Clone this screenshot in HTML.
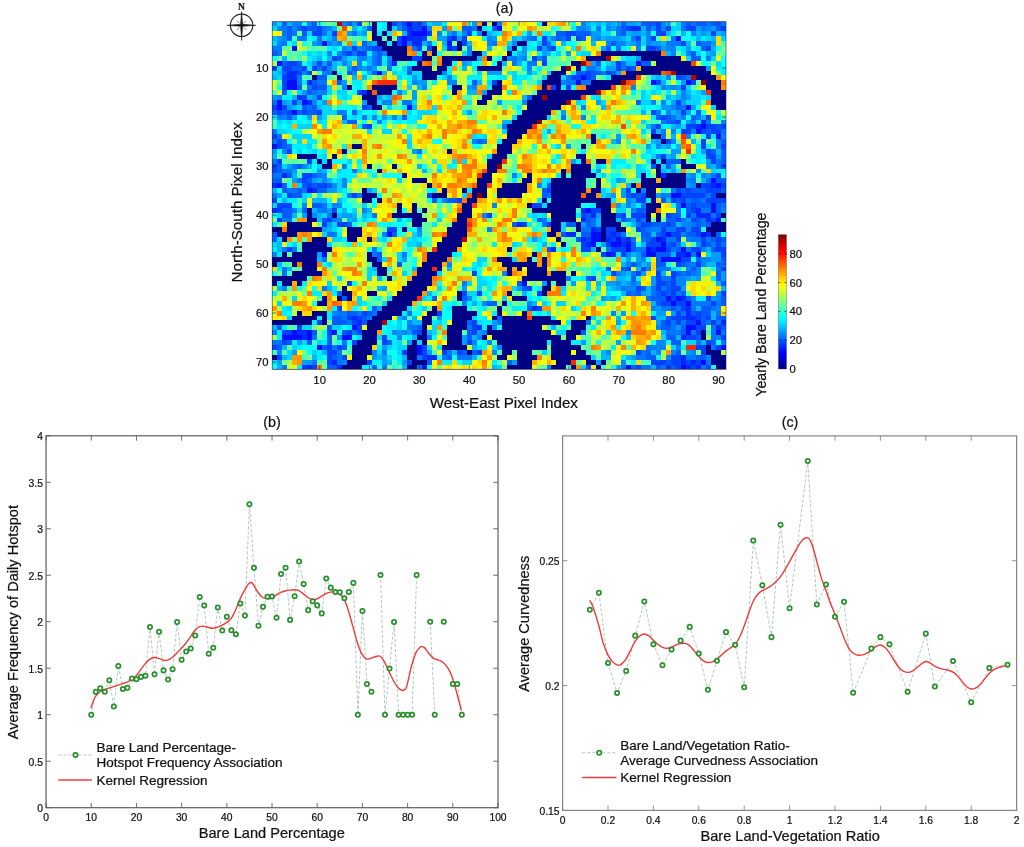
<!DOCTYPE html>
<html lang="en"><head><meta charset="utf-8"><title>Figure</title>
<style>html,body{margin:0;padding:0;background:#fff}body{width:1024px;height:847px;overflow:hidden}svg{will-change:transform}text{stroke:#111;stroke-width:.22px}</style></head>
<body>
<svg width="1024" height="847" viewBox="0 0 1024 847" style="display:block;font-family:'Liberation Sans', Arial, Helvetica, sans-serif">
<rect width="1024" height="847" fill="#fff"/>
<defs><linearGradient id="jet" x1="0" y1="1" x2="0" y2="0">
<stop offset="0" stop-color="#000080"/>
<stop offset="0.03" stop-color="#00009f"/>
<stop offset="0.06" stop-color="#0000bf"/>
<stop offset="0.09" stop-color="#0000df"/>
<stop offset="0.12" stop-color="#0000ff"/>
<stop offset="0.16" stop-color="#0020ff"/>
<stop offset="0.19" stop-color="#0040ff"/>
<stop offset="0.22" stop-color="#0060ff"/>
<stop offset="0.25" stop-color="#0080ff"/>
<stop offset="0.28" stop-color="#009fff"/>
<stop offset="0.31" stop-color="#00bfff"/>
<stop offset="0.34" stop-color="#00dfff"/>
<stop offset="0.38" stop-color="#00ffff"/>
<stop offset="0.41" stop-color="#20ffdf"/>
<stop offset="0.44" stop-color="#40ffbf"/>
<stop offset="0.47" stop-color="#60ff9f"/>
<stop offset="0.5" stop-color="#80ff80"/>
<stop offset="0.53" stop-color="#9fff60"/>
<stop offset="0.56" stop-color="#bfff40"/>
<stop offset="0.59" stop-color="#dfff20"/>
<stop offset="0.62" stop-color="#ffff00"/>
<stop offset="0.66" stop-color="#ffdf00"/>
<stop offset="0.69" stop-color="#ffbf00"/>
<stop offset="0.72" stop-color="#ff9f00"/>
<stop offset="0.75" stop-color="#ff8000"/>
<stop offset="0.78" stop-color="#ff6000"/>
<stop offset="0.81" stop-color="#ff4000"/>
<stop offset="0.84" stop-color="#ff2000"/>
<stop offset="0.88" stop-color="#ff0000"/>
<stop offset="0.91" stop-color="#df0000"/>
<stop offset="0.94" stop-color="#bf0000"/>
<stop offset="0.97" stop-color="#9f0000"/>
<stop offset="1" stop-color="#800000"/>
</linearGradient></defs>
<filter id="bl" x="-1%" y="-1%" width="102%" height="102%"><feGaussianBlur stdDeviation="0.55"/></filter>
<rect x="272.3" y="21.6" width="453.7" height="347.8" fill="#1a4ad0"/>
<g filter="url(#bl)"><g transform="translate(272.3 21.6) scale(4.98571 4.89859)" shape-rendering="crispEdges">
<rect width="91" height="71" fill="#000085"/>
<path fill="#0011ff" d="M27 0h1v1h-1zM30 1h1v1h-1zM45 1h1v1h-1zM28 2h3v1h-3zM26 3h1v1h-1zM81 3h1v1h-1zM10 4h1v1h-1zM26 4h1v1h-1zM35 4h1v1h-1zM4 5h1v1h-1zM1 8h1v1h-1zM73 8h1v1h-1zM21 10h1v1h-1zM62 11h1v1h-1zM3 12h2v1h-2zM61 12h1v1h-1zM76 12h1v1h-1zM83 12h1v1h-1zM3 13h2v1h-2zM1 16h1v1h-1zM6 16h1v1h-1zM1 17h1v1h-1zM27 17h1v1h-1zM83 17h1v1h-1zM4 18h1v1h-1zM86 21h1v1h-1zM85 22h1v1h-1zM89 23h1v1h-1zM0 25h1v1h-1zM88 32h1v1h-1zM1 33h1v1h-1zM89 33h1v1h-1zM7 34h1v1h-1zM80 35h2v1h-2zM82 37h1v1h-1zM88 37h1v1h-1zM63 38h1v1h-1zM88 38h1v1h-1zM89 40h1v1h-1zM23 43h1v1h-1zM64 43h2v1h-2zM79 43h1v1h-1zM86 43h1v1h-1zM64 44h2v1h-2zM69 44h1v1h-1zM77 44h1v1h-1zM64 45h1v1h-1zM68 45h2v1h-2zM71 45h1v1h-1zM78 45h1v1h-1zM71 46h1v1h-1zM75 46h1v1h-1zM77 46h2v1h-2zM82 46h1v1h-1zM10 47h1v1h-1zM67 47h1v1h-1zM75 47h2v1h-2zM83 47h1v1h-1zM85 47h1v1h-1zM78 48h4v1h-4zM50 53h1v1h-1zM79 56h1v1h-1zM81 56h1v1h-1zM80 57h1v1h-1zM83 57h1v1h-1zM85 61h1v1h-1zM16 62h1v1h-1zM83 62h2v1h-2zM4 63h1v1h-1zM7 63h1v1h-1zM12 63h1v1h-1zM83 63h1v1h-1zM89 63h1v1h-1zM2 64h4v1h-4zM7 64h1v1h-1zM14 64h2v1h-2zM9 66h1v1h-1zM29 66h1v1h-1zM90 66h1v1h-1zM29 67h1v1h-1zM86 69h1v1h-1zM30 70h1v1h-1zM71 70h1v1h-1zM82 70h1v1h-1z"/>
<path fill="#002aff" d="M27 1h1v1h-1zM72 1h2v1h-2zM27 2h1v1h-1zM27 3h3v1h-3zM36 3h1v1h-1zM28 4h2v1h-2zM35 5h1v1h-1zM24 8h1v1h-1zM3 10h2v1h-2zM3 11h2v1h-2zM7 12h1v1h-1zM18 14h1v1h-1zM5 15h1v1h-1zM7 16h1v1h-1zM86 20h1v1h-1zM85 21h1v1h-1zM2 31h1v1h-1zM78 31h1v1h-1zM0 33h1v1h-1zM88 33h1v1h-1zM8 34h1v1h-1zM0 38h1v1h-1zM62 38h1v1h-1zM85 38h1v1h-1zM64 39h1v1h-1zM85 39h3v1h-3zM62 40h1v1h-1zM87 40h1v1h-1zM49 41h1v1h-1zM64 42h1v1h-1zM59 43h2v1h-2zM68 43h1v1h-1zM87 43h1v1h-1zM62 44h1v1h-1zM67 44h1v1h-1zM71 44h1v1h-1zM78 44h1v1h-1zM63 45h1v1h-1zM70 45h1v1h-1zM56 46h1v1h-1zM76 46h1v1h-1zM68 47h1v1h-1zM81 47h2v1h-2zM82 56h1v1h-1zM52 58h1v1h-1zM83 58h1v1h-1zM83 59h1v1h-1zM16 60h1v1h-1zM83 60h2v1h-2zM17 61h1v1h-1zM90 61h1v1h-1zM41 62h1v1h-1zM89 62h1v1h-1zM5 63h2v1h-2zM6 64h1v1h-1zM82 64h1v1h-1zM31 68h2v1h-2zM82 68h1v1h-1zM12 69h1v1h-1zM82 69h1v1h-1zM84 69h1v1h-1zM7 70h1v1h-1zM13 70h1v1h-1zM83 70h1v1h-1zM85 70h1v1h-1z"/>
<path fill="#0043ff" d="M28 0h2v1h-2zM28 1h2v1h-2zM71 1h1v1h-1zM8 2h2v1h-2zM12 2h1v1h-1zM35 3h1v1h-1zM29 5h1v1h-1zM0 9h1v1h-1zM2 9h2v1h-2zM63 11h1v1h-1zM2 12h1v1h-1zM84 12h1v1h-1zM4 16h1v1h-1zM0 17h1v1h-1zM6 18h1v1h-1zM83 21h2v1h-2zM83 22h1v1h-1zM86 22h1v1h-1zM89 22h1v1h-1zM82 35h1v1h-1zM84 35h1v1h-1zM73 36h1v1h-1zM88 36h2v1h-2zM1 38h1v1h-1zM64 38h1v1h-1zM62 39h1v1h-1zM79 39h1v1h-1zM88 40h1v1h-1zM50 41h1v1h-1zM65 42h1v1h-1zM67 42h2v1h-2zM67 43h1v1h-1zM69 43h1v1h-1zM63 44h1v1h-1zM68 44h1v1h-1zM70 44h1v1h-1zM76 44h1v1h-1zM89 44h1v1h-1zM62 45h1v1h-1zM67 45h1v1h-1zM76 45h2v1h-2zM62 46h2v1h-2zM69 46h2v1h-2zM79 46h1v1h-1zM85 46h1v1h-1zM82 48h2v1h-2zM74 50h1v1h-1zM73 51h1v1h-1zM80 56h1v1h-1zM81 57h2v1h-2zM82 58h1v1h-1zM17 60h1v1h-1zM85 60h1v1h-1zM16 61h1v1h-1zM84 61h1v1h-1zM17 62h1v1h-1zM2 63h2v1h-2zM11 63h1v1h-1zM40 63h1v1h-1zM90 64h1v1h-1zM86 66h1v1h-1zM30 67h1v1h-1zM86 67h1v1h-1zM14 68h1v1h-1zM80 68h2v1h-2zM80 69h2v1h-2zM83 69h1v1h-1zM85 69h1v1h-1zM6 70h1v1h-1zM81 70h1v1h-1zM84 70h1v1h-1z"/>
<path fill="#0042ff" d="M17 0h1v1h-1zM24 0h1v1h-1zM26 0h1v1h-1zM77 0h1v1h-1zM6 1h1v1h-1zM9 1h1v1h-1zM77 1h1v1h-1zM79 1h1v1h-1zM83 1h2v1h-2zM90 1h1v1h-1zM31 2h1v1h-1zM39 2h1v1h-1zM59 2h2v1h-2zM77 2h2v1h-2zM88 2h1v1h-1zM25 3h1v1h-1zM30 3h1v1h-1zM38 3h1v1h-1zM54 3h1v1h-1zM59 3h1v1h-1zM61 3h1v1h-1zM73 3h1v1h-1zM76 3h1v1h-1zM25 4h1v1h-1zM38 4h1v1h-1zM54 4h1v1h-1zM82 4h1v1h-1zM16 5h1v1h-1zM20 5h2v1h-2zM31 5h1v1h-1zM36 5h1v1h-1zM53 5h1v1h-1zM56 5h1v1h-1zM75 5h2v1h-2zM87 5h1v1h-1zM15 6h1v1h-1zM17 6h2v1h-2zM12 7h1v1h-1zM28 7h2v1h-2zM52 7h1v1h-1zM3 8h2v1h-2zM9 8h1v1h-1zM54 8h1v1h-1zM69 8h1v1h-1zM6 9h1v1h-1zM8 9h1v1h-1zM10 9h1v1h-1zM69 9h1v1h-1zM71 9h1v1h-1zM5 10h1v1h-1zM7 10h1v1h-1zM63 10h1v1h-1zM67 10h1v1h-1zM2 11h1v1h-1zM60 11h2v1h-2zM81 11h1v1h-1zM44 12h1v1h-1zM77 12h1v1h-1zM2 13h1v1h-1zM8 13h1v1h-1zM56 13h1v1h-1zM59 13h1v1h-1zM82 13h1v1h-1zM17 14h1v1h-1zM6 15h1v1h-1zM9 15h1v1h-1zM81 16h1v1h-1zM2 17h1v1h-1zM18 17h1v1h-1zM1 18h1v1h-1zM3 18h1v1h-1zM9 18h1v1h-1zM76 18h1v1h-1zM82 18h1v1h-1zM78 19h1v1h-1zM87 19h1v1h-1zM81 20h1v1h-1zM19 21h1v1h-1zM77 21h1v1h-1zM87 21h2v1h-2zM90 21h1v1h-1zM76 22h1v1h-1zM82 22h1v1h-1zM88 22h1v1h-1zM0 23h1v1h-1zM87 23h1v1h-1zM1 24h1v1h-1zM79 24h1v1h-1zM86 24h1v1h-1zM1 25h1v1h-1zM86 25h1v1h-1zM90 25h1v1h-1zM3 26h1v1h-1zM87 26h1v1h-1zM78 27h1v1h-1zM87 27h2v1h-2zM1 28h1v1h-1zM7 28h1v1h-1zM88 28h1v1h-1zM0 29h1v1h-1zM90 29h1v1h-1zM0 30h1v1h-1zM6 31h2v1h-2zM89 31h1v1h-1zM6 32h1v1h-1zM7 33h1v1h-1zM9 33h2v1h-2zM86 33h2v1h-2zM90 33h1v1h-1zM55 34h1v1h-1zM71 34h1v1h-1zM81 34h1v1h-1zM83 34h1v1h-1zM87 34h3v1h-3zM3 35h1v1h-1zM16 35h1v1h-1zM31 35h1v1h-1zM72 35h1v1h-1zM74 35h1v1h-1zM83 35h1v1h-1zM85 35h2v1h-2zM88 35h1v1h-1zM0 36h1v1h-1zM37 36h1v1h-1zM74 36h1v1h-1zM80 36h1v1h-1zM82 36h1v1h-1zM87 36h1v1h-1zM90 36h1v1h-1zM1 37h3v1h-3zM52 37h2v1h-2zM84 37h1v1h-1zM12 38h1v1h-1zM65 38h1v1h-1zM84 38h1v1h-1zM43 39h1v1h-1zM70 39h1v1h-1zM72 39h3v1h-3zM83 39h1v1h-1zM89 39h1v1h-1zM1 40h1v1h-1zM11 40h1v1h-1zM73 40h1v1h-1zM81 40h1v1h-1zM84 40h1v1h-1zM10 41h1v1h-1zM13 41h2v1h-2zM55 41h1v1h-1zM74 41h2v1h-2zM79 41h1v1h-1zM23 42h2v1h-2zM73 42h1v1h-1zM78 42h1v1h-1zM81 42h2v1h-2zM84 42h2v1h-2zM78 43h1v1h-1zM80 43h2v1h-2zM85 43h1v1h-1zM81 44h1v1h-1zM86 44h1v1h-1zM75 45h1v1h-1zM80 45h1v1h-1zM86 45h1v1h-1zM89 45h1v1h-1zM3 46h1v1h-1zM68 46h1v1h-1zM84 46h1v1h-1zM89 46h2v1h-2zM66 47h1v1h-1zM70 47h1v1h-1zM90 47h1v1h-1zM81 49h1v1h-1zM85 49h1v1h-1zM71 50h1v1h-1zM90 50h1v1h-1zM40 51h1v1h-1zM68 51h1v1h-1zM77 51h1v1h-1zM80 51h1v1h-1zM64 52h1v1h-1zM77 52h1v1h-1zM80 52h1v1h-1zM15 53h1v1h-1zM77 53h2v1h-2zM80 53h1v1h-1zM51 54h1v1h-1zM73 54h1v1h-1zM77 54h1v1h-1zM80 54h2v1h-2zM38 55h1v1h-1zM41 55h1v1h-1zM53 55h1v1h-1zM78 55h1v1h-1zM80 55h1v1h-1zM90 55h1v1h-1zM87 56h1v1h-1zM78 57h2v1h-2zM88 57h1v1h-1zM13 58h1v1h-1zM53 58h1v1h-1zM18 59h1v1h-1zM33 59h1v1h-1zM81 59h1v1h-1zM85 59h1v1h-1zM15 60h1v1h-1zM76 60h1v1h-1zM80 60h3v1h-3zM87 60h1v1h-1zM9 61h1v1h-1zM40 61h1v1h-1zM79 61h1v1h-1zM81 61h1v1h-1zM83 61h1v1h-1zM88 61h1v1h-1zM5 62h1v1h-1zM40 62h1v1h-1zM85 62h2v1h-2zM15 63h1v1h-1zM17 63h1v1h-1zM29 63h1v1h-1zM85 63h1v1h-1zM22 64h1v1h-1zM83 64h2v1h-2zM2 65h1v1h-1zM16 65h1v1h-1zM22 65h1v1h-1zM39 65h1v1h-1zM87 65h1v1h-1zM0 66h1v1h-1zM11 66h1v1h-1zM13 66h1v1h-1zM30 66h1v1h-1zM85 66h1v1h-1zM89 66h1v1h-1zM11 67h2v1h-2zM26 67h1v1h-1zM34 67h1v1h-1zM37 67h1v1h-1zM41 67h1v1h-1zM73 67h1v1h-1zM1 68h1v1h-1zM11 68h1v1h-1zM30 68h1v1h-1zM11 69h1v1h-1zM19 69h1v1h-1zM27 69h1v1h-1zM76 69h3v1h-3zM8 70h1v1h-1zM63 70h1v1h-1zM73 70h1v1h-1zM79 70h1v1h-1zM87 70h1v1h-1z"/>
<path fill="#005bff" d="M2 0h1v1h-1zM8 0h1v1h-1zM15 0h1v1h-1zM70 0h1v1h-1zM74 0h3v1h-3zM83 0h1v1h-1zM85 0h2v1h-2zM88 0h2v1h-2zM3 1h1v1h-1zM5 1h1v1h-1zM7 1h2v1h-2zM19 1h1v1h-1zM26 1h1v1h-1zM38 1h2v1h-2zM44 1h1v1h-1zM70 1h1v1h-1zM75 1h1v1h-1zM89 1h1v1h-1zM3 2h1v1h-1zM6 2h1v1h-1zM57 2h2v1h-2zM61 2h3v1h-3zM70 2h1v1h-1zM3 3h1v1h-1zM52 3h1v1h-1zM57 3h1v1h-1zM62 3h1v1h-1zM18 4h1v1h-1zM68 4h1v1h-1zM85 4h1v1h-1zM19 5h1v1h-1zM55 5h1v1h-1zM67 5h1v1h-1zM77 5h1v1h-1zM86 5h1v1h-1zM0 6h1v1h-1zM14 6h1v1h-1zM21 6h1v1h-1zM84 6h1v1h-1zM13 7h1v1h-1zM21 7h1v1h-1zM54 7h1v1h-1zM84 7h2v1h-2zM2 8h1v1h-1zM5 8h1v1h-1zM11 8h1v1h-1zM21 8h1v1h-1zM65 8h1v1h-1zM74 8h2v1h-2zM4 9h2v1h-2zM16 9h1v1h-1zM72 9h1v1h-1zM2 10h1v1h-1zM15 10h1v1h-1zM20 10h1v1h-1zM27 10h1v1h-1zM61 10h2v1h-2zM64 10h2v1h-2zM68 10h1v1h-1zM9 11h2v1h-2zM64 11h1v1h-1zM82 11h1v1h-1zM8 12h1v1h-1zM13 12h1v1h-1zM40 12h1v1h-1zM5 13h1v1h-1zM9 13h2v1h-2zM2 14h1v1h-1zM7 14h1v1h-1zM51 15h1v1h-1zM73 16h1v1h-1zM6 17h1v1h-1zM8 17h1v1h-1zM19 17h1v1h-1zM81 17h1v1h-1zM0 18h1v1h-1zM2 18h1v1h-1zM5 18h1v1h-1zM7 18h2v1h-2zM16 18h1v1h-1zM85 18h1v1h-1zM3 19h1v1h-1zM14 19h1v1h-1zM26 19h1v1h-1zM77 19h1v1h-1zM79 19h1v1h-1zM84 19h1v1h-1zM15 20h2v1h-2zM79 20h2v1h-2zM18 21h1v1h-1zM89 21h1v1h-1zM87 22h1v1h-1zM2 24h1v1h-1zM41 24h1v1h-1zM90 24h1v1h-1zM2 25h1v1h-1zM88 26h1v1h-1zM90 26h1v1h-1zM90 27h1v1h-1zM79 28h3v1h-3zM90 28h1v1h-1zM1 29h1v1h-1zM5 29h1v1h-1zM76 29h1v1h-1zM79 29h1v1h-1zM1 30h1v1h-1zM3 31h1v1h-1zM8 31h1v1h-1zM0 32h2v1h-2zM7 32h1v1h-1zM89 32h2v1h-2zM2 33h1v1h-1zM6 33h1v1h-1zM8 33h1v1h-1zM11 33h1v1h-1zM55 33h1v1h-1zM2 34h1v1h-1zM5 34h1v1h-1zM9 34h2v1h-2zM54 34h1v1h-1zM82 34h1v1h-1zM84 34h3v1h-3zM90 34h1v1h-1zM4 35h2v1h-2zM54 35h1v1h-1zM71 35h1v1h-1zM73 35h1v1h-1zM32 36h1v1h-1zM35 36h2v1h-2zM78 36h1v1h-1zM81 36h1v1h-1zM84 36h2v1h-2zM8 37h2v1h-2zM83 37h1v1h-1zM85 37h3v1h-3zM89 37h1v1h-1zM2 38h2v1h-2zM6 38h1v1h-1zM73 38h2v1h-2zM83 38h1v1h-1zM89 38h1v1h-1zM2 39h2v1h-2zM63 39h1v1h-1zM69 39h1v1h-1zM80 39h2v1h-2zM10 40h1v1h-1zM53 40h1v1h-1zM63 40h1v1h-1zM70 40h1v1h-1zM79 40h2v1h-2zM85 40h1v1h-1zM15 41h1v1h-1zM48 41h1v1h-1zM59 41h2v1h-2zM63 41h1v1h-1zM76 41h3v1h-3zM80 41h1v1h-1zM85 41h1v1h-1zM87 41h1v1h-1zM74 42h1v1h-1zM0 43h1v1h-1zM24 43h1v1h-1zM58 43h1v1h-1zM62 43h2v1h-2zM74 43h2v1h-2zM77 43h1v1h-1zM83 43h2v1h-2zM89 43h1v1h-1zM0 44h1v1h-1zM61 44h1v1h-1zM75 44h1v1h-1zM88 44h1v1h-1zM90 44h1v1h-1zM72 45h1v1h-1zM79 45h1v1h-1zM87 45h1v1h-1zM55 46h1v1h-1zM72 46h1v1h-1zM81 46h1v1h-1zM88 46h1v1h-1zM21 47h1v1h-1zM74 47h1v1h-1zM77 47h3v1h-3zM21 48h1v1h-1zM77 48h1v1h-1zM85 48h1v1h-1zM90 48h1v1h-1zM25 49h1v1h-1zM72 49h1v1h-1zM77 49h2v1h-2zM82 49h1v1h-1zM89 49h1v1h-1zM67 50h1v1h-1zM70 50h1v1h-1zM84 50h1v1h-1zM81 51h1v1h-1zM83 51h1v1h-1zM89 51h1v1h-1zM63 52h1v1h-1zM72 52h1v1h-1zM89 52h1v1h-1zM49 53h1v1h-1zM79 53h1v1h-1zM90 53h1v1h-1zM50 54h1v1h-1zM74 54h1v1h-1zM79 54h1v1h-1zM13 55h1v1h-1zM71 55h1v1h-1zM73 55h1v1h-1zM77 55h1v1h-1zM79 55h1v1h-1zM82 55h1v1h-1zM14 56h1v1h-1zM32 56h1v1h-1zM38 56h1v1h-1zM76 56h3v1h-3zM83 56h1v1h-1zM90 56h1v1h-1zM43 57h2v1h-2zM77 57h1v1h-1zM90 57h1v1h-1zM20 58h1v1h-1zM51 58h1v1h-1zM80 58h1v1h-1zM86 58h2v1h-2zM15 59h2v1h-2zM19 59h1v1h-1zM84 59h1v1h-1zM86 59h2v1h-2zM12 60h2v1h-2zM18 60h1v1h-1zM45 60h1v1h-1zM79 60h1v1h-1zM86 60h1v1h-1zM89 60h2v1h-2zM12 61h3v1h-3zM18 61h1v1h-1zM39 61h1v1h-1zM78 61h1v1h-1zM86 61h1v1h-1zM1 62h1v1h-1zM11 62h1v1h-1zM29 62h1v1h-1zM78 62h2v1h-2zM82 62h1v1h-1zM90 62h1v1h-1zM8 63h1v1h-1zM14 63h1v1h-1zM28 63h1v1h-1zM39 63h1v1h-1zM62 63h1v1h-1zM82 63h1v1h-1zM11 64h1v1h-1zM39 64h1v1h-1zM79 64h2v1h-2zM85 64h1v1h-1zM3 65h1v1h-1zM7 65h1v1h-1zM11 65h1v1h-1zM23 65h1v1h-1zM80 65h2v1h-2zM88 65h1v1h-1zM1 66h1v1h-1zM10 66h1v1h-1zM14 66h1v1h-1zM38 67h1v1h-1zM40 67h1v1h-1zM75 67h1v1h-1zM81 67h1v1h-1zM12 68h1v1h-1zM35 68h1v1h-1zM75 68h2v1h-2zM85 68h2v1h-2zM31 69h1v1h-1zM47 69h1v1h-1zM79 69h1v1h-1zM11 70h2v1h-2zM20 70h1v1h-1zM72 70h1v1h-1zM77 70h1v1h-1zM80 70h1v1h-1z"/>
<path fill="#0074ff" d="M25 0h1v1h-1zM30 0h1v1h-1zM45 0h1v1h-1zM82 0h1v1h-1zM84 0h1v1h-1zM87 0h1v1h-1zM90 0h1v1h-1zM2 1h1v1h-1zM10 1h1v1h-1zM40 1h1v1h-1zM65 1h1v1h-1zM69 1h1v1h-1zM82 1h1v1h-1zM86 1h1v1h-1zM2 2h1v1h-1zM4 2h1v1h-1zM10 2h1v1h-1zM16 2h1v1h-1zM36 2h1v1h-1zM69 2h1v1h-1zM5 3h2v1h-2zM9 3h1v1h-1zM51 3h1v1h-1zM58 3h1v1h-1zM72 3h1v1h-1zM80 3h1v1h-1zM2 4h1v1h-1zM27 4h1v1h-1zM31 4h1v1h-1zM44 4h1v1h-1zM55 4h1v1h-1zM73 4h1v1h-1zM79 4h3v1h-3zM86 4h2v1h-2zM0 5h2v1h-2zM18 5h1v1h-1zM28 5h1v1h-1zM69 5h1v1h-1zM1 6h1v1h-1zM16 6h1v1h-1zM20 7h1v1h-1zM48 7h1v1h-1zM87 7h1v1h-1zM20 8h1v1h-1zM23 8h1v1h-1zM48 8h1v1h-1zM51 8h2v1h-2zM70 8h1v1h-1zM9 9h1v1h-1zM19 9h1v1h-1zM23 9h1v1h-1zM27 9h1v1h-1zM63 9h2v1h-2zM70 9h1v1h-1zM11 10h1v1h-1zM66 10h1v1h-1zM5 11h1v1h-1zM59 11h1v1h-1zM83 11h1v1h-1zM5 12h1v1h-1zM9 12h2v1h-2zM59 12h2v1h-2zM62 12h2v1h-2zM7 13h1v1h-1zM8 14h1v1h-1zM10 14h1v1h-1zM0 16h1v1h-1zM26 16h2v1h-2zM7 17h1v1h-1zM82 17h1v1h-1zM13 18h1v1h-1zM77 18h1v1h-1zM1 19h1v1h-1zM18 19h1v1h-1zM58 19h1v1h-1zM80 19h1v1h-1zM85 19h1v1h-1zM78 20h1v1h-1zM84 20h1v1h-1zM87 20h1v1h-1zM46 21h1v1h-1zM76 21h1v1h-1zM0 22h1v1h-1zM78 22h1v1h-1zM90 22h1v1h-1zM1 23h1v1h-1zM78 23h1v1h-1zM0 24h1v1h-1zM42 24h1v1h-1zM3 25h1v1h-1zM29 26h1v1h-1zM77 27h1v1h-1zM0 28h1v1h-1zM89 28h1v1h-1zM4 29h1v1h-1zM14 29h1v1h-1zM89 29h1v1h-1zM2 30h2v1h-2zM16 30h1v1h-1zM0 31h2v1h-2zM9 31h1v1h-1zM88 31h1v1h-1zM5 32h1v1h-1zM84 32h1v1h-1zM87 32h1v1h-1zM3 34h2v1h-2zM6 34h1v1h-1zM80 34h1v1h-1zM0 35h1v1h-1zM15 35h1v1h-1zM17 35h1v1h-1zM55 35h1v1h-1zM78 35h1v1h-1zM87 35h1v1h-1zM83 36h1v1h-1zM86 36h1v1h-1zM10 37h1v1h-1zM74 37h1v1h-1zM81 37h1v1h-1zM90 37h1v1h-1zM4 38h1v1h-1zM10 38h1v1h-1zM81 38h1v1h-1zM86 38h2v1h-2zM11 39h1v1h-1zM20 39h1v1h-1zM84 39h1v1h-1zM88 39h1v1h-1zM2 40h2v1h-2zM12 40h1v1h-1zM54 40h1v1h-1zM64 40h1v1h-1zM71 40h1v1h-1zM74 40h1v1h-1zM82 40h1v1h-1zM86 40h1v1h-1zM54 41h1v1h-1zM64 41h1v1h-1zM73 41h1v1h-1zM84 41h1v1h-1zM86 41h1v1h-1zM62 42h2v1h-2zM75 42h1v1h-1zM79 42h2v1h-2zM11 43h2v1h-2zM70 43h1v1h-1zM72 44h1v1h-1zM74 44h1v1h-1zM79 44h2v1h-2zM84 44h2v1h-2zM87 44h1v1h-1zM81 45h1v1h-1zM88 45h1v1h-1zM90 45h1v1h-1zM2 46h1v1h-1zM4 46h1v1h-1zM20 46h1v1h-1zM67 46h1v1h-1zM73 46h2v1h-2zM80 46h1v1h-1zM83 46h1v1h-1zM20 47h1v1h-1zM26 47h1v1h-1zM84 47h1v1h-1zM10 48h1v1h-1zM83 49h2v1h-2zM90 49h1v1h-1zM2 50h1v1h-1zM77 50h3v1h-3zM89 50h1v1h-1zM2 51h1v1h-1zM72 51h1v1h-1zM82 51h1v1h-1zM84 51h1v1h-1zM59 52h1v1h-1zM78 52h2v1h-2zM38 53h1v1h-1zM72 53h1v1h-1zM10 54h1v1h-1zM70 54h1v1h-1zM76 54h1v1h-1zM78 54h1v1h-1zM72 55h1v1h-1zM76 55h1v1h-1zM81 55h1v1h-1zM75 56h1v1h-1zM84 57h4v1h-4zM89 57h1v1h-1zM78 58h2v1h-2zM81 58h1v1h-1zM84 58h1v1h-1zM88 58h1v1h-1zM13 59h2v1h-2zM17 59h1v1h-1zM20 59h1v1h-1zM27 59h1v1h-1zM82 59h1v1h-1zM89 59h1v1h-1zM14 60h1v1h-1zM19 60h1v1h-1zM15 61h1v1h-1zM45 61h1v1h-1zM63 61h1v1h-1zM80 61h1v1h-1zM82 61h1v1h-1zM87 61h1v1h-1zM89 61h1v1h-1zM27 62h2v1h-2zM39 62h1v1h-1zM80 62h1v1h-1zM88 62h1v1h-1zM0 63h1v1h-1zM16 63h1v1h-1zM79 63h3v1h-3zM84 63h1v1h-1zM88 63h1v1h-1zM90 63h1v1h-1zM8 64h1v1h-1zM31 64h1v1h-1zM88 64h1v1h-1zM0 65h2v1h-2zM14 65h1v1h-1zM85 65h1v1h-1zM90 65h1v1h-1zM12 66h1v1h-1zM75 66h2v1h-2zM88 66h1v1h-1zM13 67h1v1h-1zM22 67h1v1h-1zM35 67h1v1h-1zM74 67h1v1h-1zM13 68h1v1h-1zM29 68h1v1h-1zM34 68h1v1h-1zM37 68h3v1h-3zM73 68h2v1h-2zM83 68h2v1h-2zM8 69h1v1h-1zM13 69h1v1h-1zM87 69h1v1h-1zM2 70h1v1h-1zM22 70h1v1h-1zM29 70h1v1h-1zM70 70h1v1h-1zM74 70h2v1h-2zM78 70h1v1h-1zM86 70h1v1h-1z"/>
<path fill="#0084ff" d="M4 0h2v1h-2zM7 0h1v1h-1zM14 0h1v1h-1zM62 0h1v1h-1zM78 0h1v1h-1zM1 1h1v1h-1zM4 1h1v1h-1zM11 1h1v1h-1zM25 1h1v1h-1zM31 1h1v1h-1zM61 1h2v1h-2zM67 1h1v1h-1zM76 1h1v1h-1zM78 1h1v1h-1zM87 1h1v1h-1zM33 2h1v1h-1zM38 2h1v1h-1zM41 2h1v1h-1zM75 2h1v1h-1zM84 2h1v1h-1zM2 3h1v1h-1zM12 3h1v1h-1zM43 3h1v1h-1zM56 3h1v1h-1zM65 3h1v1h-1zM75 3h1v1h-1zM1 4h1v1h-1zM9 4h1v1h-1zM11 4h1v1h-1zM13 4h1v1h-1zM43 4h1v1h-1zM48 4h1v1h-1zM67 4h1v1h-1zM69 4h2v1h-2zM75 4h1v1h-1zM14 5h1v1h-1zM17 5h1v1h-1zM39 5h1v1h-1zM73 5h1v1h-1zM79 5h2v1h-2zM11 6h1v1h-1zM13 6h1v1h-1zM20 6h1v1h-1zM22 6h1v1h-1zM39 6h1v1h-1zM80 6h1v1h-1zM83 6h1v1h-1zM17 7h2v1h-2zM23 7h1v1h-1zM47 7h1v1h-1zM50 7h1v1h-1zM53 7h1v1h-1zM14 8h1v1h-1zM17 8h1v1h-1zM11 9h1v1h-1zM17 9h1v1h-1zM51 9h1v1h-1zM6 10h1v1h-1zM10 10h1v1h-1zM16 10h1v1h-1zM34 10h1v1h-1zM35 11h1v1h-1zM79 11h1v1h-1zM28 12h1v1h-1zM35 12h2v1h-2zM58 12h1v1h-1zM14 13h1v1h-1zM30 13h1v1h-1zM40 13h1v1h-1zM72 13h1v1h-1zM78 13h1v1h-1zM80 13h1v1h-1zM9 14h1v1h-1zM25 14h1v1h-1zM82 14h1v1h-1zM1 15h1v1h-1zM82 15h1v1h-1zM8 16h1v1h-1zM22 16h2v1h-2zM50 16h1v1h-1zM76 16h1v1h-1zM78 16h1v1h-1zM62 17h1v1h-1zM80 17h1v1h-1zM14 18h1v1h-1zM79 18h1v1h-1zM2 19h1v1h-1zM20 19h1v1h-1zM24 19h1v1h-1zM62 19h1v1h-1zM82 19h1v1h-1zM21 20h1v1h-1zM90 20h1v1h-1zM80 22h1v1h-1zM84 22h1v1h-1zM83 23h1v1h-1zM90 23h1v1h-1zM40 24h1v1h-1zM69 24h1v1h-1zM80 24h1v1h-1zM89 24h1v1h-1zM77 25h1v1h-1zM89 25h1v1h-1zM2 26h1v1h-1zM6 29h1v1h-1zM85 30h1v1h-1zM10 31h1v1h-1zM48 31h1v1h-1zM84 31h1v1h-1zM86 31h1v1h-1zM10 32h1v1h-1zM14 32h1v1h-1zM83 32h1v1h-1zM12 33h1v1h-1zM14 33h1v1h-1zM53 33h1v1h-1zM84 33h1v1h-1zM74 34h1v1h-1zM79 35h1v1h-1zM34 36h1v1h-1zM71 36h1v1h-1zM6 37h1v1h-1zM12 37h2v1h-2zM44 37h1v1h-1zM71 37h1v1h-1zM9 38h1v1h-1zM18 38h1v1h-1zM72 38h1v1h-1zM90 38h1v1h-1zM8 39h1v1h-1zM42 39h1v1h-1zM13 40h1v1h-1zM82 41h2v1h-2zM29 42h1v1h-1zM43 42h1v1h-1zM76 42h2v1h-2zM83 42h1v1h-1zM22 43h1v1h-1zM82 43h1v1h-1zM83 44h1v1h-1zM86 46h1v1h-1zM0 47h1v1h-1zM71 47h1v1h-1zM74 48h1v1h-1zM86 48h2v1h-2zM35 49h1v1h-1zM71 49h1v1h-1zM73 49h1v1h-1zM86 49h1v1h-1zM75 50h1v1h-1zM83 50h1v1h-1zM85 50h1v1h-1zM46 51h1v1h-1zM69 51h1v1h-1zM85 51h1v1h-1zM81 52h2v1h-2zM69 53h1v1h-1zM81 53h2v1h-2zM2 54h1v1h-1zM71 54h2v1h-2zM39 56h1v1h-1zM84 56h1v1h-1zM89 56h1v1h-1zM38 57h1v1h-1zM42 57h1v1h-1zM51 57h1v1h-1zM76 58h1v1h-1zM89 58h1v1h-1zM12 59h1v1h-1zM68 59h1v1h-1zM26 60h1v1h-1zM27 61h1v1h-1zM44 62h1v1h-1zM77 62h1v1h-1zM24 63h1v1h-1zM26 63h1v1h-1zM42 63h1v1h-1zM71 63h1v1h-1zM25 64h1v1h-1zM41 64h1v1h-1zM89 64h1v1h-1zM40 65h1v1h-1zM43 65h1v1h-1zM77 65h2v1h-2zM45 66h1v1h-1zM77 66h2v1h-2zM81 66h1v1h-1zM1 67h1v1h-1zM20 67h1v1h-1zM44 67h1v1h-1zM67 67h1v1h-1zM77 67h1v1h-1zM80 67h1v1h-1zM84 67h1v1h-1zM79 68h1v1h-1zM87 68h1v1h-1zM14 69h1v1h-1zM70 69h1v1h-1zM55 70h1v1h-1z"/>
<path fill="#009dff" d="M0 0h1v1h-1zM16 0h1v1h-1zM40 0h1v1h-1zM67 0h1v1h-1zM71 0h2v1h-2zM34 1h1v1h-1zM63 1h1v1h-1zM68 1h1v1h-1zM85 1h1v1h-1zM88 1h1v1h-1zM15 2h1v1h-1zM18 2h1v1h-1zM35 2h1v1h-1zM51 2h1v1h-1zM64 2h2v1h-2zM72 2h2v1h-2zM86 2h1v1h-1zM90 2h1v1h-1zM1 3h1v1h-1zM33 3h2v1h-2zM37 3h1v1h-1zM44 3h1v1h-1zM50 3h1v1h-1zM64 3h1v1h-1zM67 3h3v1h-3zM8 4h1v1h-1zM12 4h1v1h-1zM19 4h1v1h-1zM72 4h1v1h-1zM76 4h2v1h-2zM88 4h1v1h-1zM15 5h1v1h-1zM47 5h1v1h-1zM50 5h1v1h-1zM54 5h1v1h-1zM66 5h1v1h-1zM78 5h1v1h-1zM83 5h1v1h-1zM50 6h1v1h-1zM54 6h1v1h-1zM59 6h1v1h-1zM88 6h1v1h-1zM14 7h1v1h-1zM49 7h1v1h-1zM73 7h1v1h-1zM8 8h1v1h-1zM10 8h1v1h-1zM38 8h1v1h-1zM64 8h1v1h-1zM15 9h1v1h-1zM18 9h1v1h-1zM20 9h1v1h-1zM65 9h1v1h-1zM67 9h2v1h-2zM87 9h1v1h-1zM43 10h3v1h-3zM51 10h1v1h-1zM69 10h1v1h-1zM28 11h1v1h-1zM14 12h1v1h-1zM29 12h2v1h-2zM82 12h1v1h-1zM39 13h1v1h-1zM79 13h1v1h-1zM81 13h1v1h-1zM6 14h1v1h-1zM28 14h1v1h-1zM42 14h1v1h-1zM86 14h1v1h-1zM0 15h1v1h-1zM8 15h1v1h-1zM21 15h1v1h-1zM28 15h1v1h-1zM83 15h1v1h-1zM2 16h1v1h-1zM5 16h1v1h-1zM10 16h1v1h-1zM18 16h1v1h-1zM45 16h1v1h-1zM65 16h1v1h-1zM80 16h1v1h-1zM82 16h1v1h-1zM3 17h1v1h-1zM78 17h2v1h-2zM84 17h1v1h-1zM39 18h1v1h-1zM58 18h1v1h-1zM81 18h1v1h-1zM83 18h1v1h-1zM4 19h1v1h-1zM7 19h1v1h-1zM9 19h1v1h-1zM22 19h1v1h-1zM81 19h1v1h-1zM83 20h1v1h-1zM81 21h1v1h-1zM55 22h1v1h-1zM69 23h1v1h-1zM77 24h1v1h-1zM59 25h1v1h-1zM75 25h1v1h-1zM79 25h1v1h-1zM0 26h1v1h-1zM28 26h1v1h-1zM80 26h2v1h-2zM86 26h1v1h-1zM80 27h1v1h-1zM89 27h1v1h-1zM60 28h1v1h-1zM87 28h1v1h-1zM3 29h1v1h-1zM87 29h1v1h-1zM4 30h1v1h-1zM9 30h1v1h-1zM65 30h1v1h-1zM80 30h1v1h-1zM83 31h1v1h-1zM87 31h1v1h-1zM4 32h1v1h-1zM8 32h1v1h-1zM69 32h1v1h-1zM83 33h1v1h-1zM11 34h2v1h-2zM19 34h1v1h-1zM70 34h1v1h-1zM1 35h1v1h-1zM68 35h1v1h-1zM70 35h1v1h-1zM77 35h1v1h-1zM72 36h1v1h-1zM69 37h1v1h-1zM11 38h1v1h-1zM6 39h1v1h-1zM14 39h2v1h-2zM65 39h1v1h-1zM16 40h1v1h-1zM72 40h1v1h-1zM83 40h1v1h-1zM11 41h1v1h-1zM62 41h1v1h-1zM10 42h1v1h-1zM29 43h1v1h-1zM52 44h1v1h-1zM66 45h1v1h-1zM85 45h1v1h-1zM9 47h1v1h-1zM73 47h1v1h-1zM88 47h2v1h-2zM26 48h1v1h-1zM71 48h1v1h-1zM73 48h1v1h-1zM88 48h2v1h-2zM75 49h1v1h-1zM70 51h1v1h-1zM74 51h1v1h-1zM90 51h1v1h-1zM76 52h1v1h-1zM83 52h1v1h-1zM85 52h1v1h-1zM90 52h1v1h-1zM54 53h1v1h-1zM60 53h1v1h-1zM67 53h2v1h-2zM71 53h1v1h-1zM73 53h1v1h-1zM76 53h1v1h-1zM22 54h1v1h-1zM38 54h1v1h-1zM49 54h1v1h-1zM69 54h1v1h-1zM82 54h1v1h-1zM74 55h1v1h-1zM89 55h1v1h-1zM66 56h1v1h-1zM68 56h1v1h-1zM88 56h1v1h-1zM21 58h1v1h-1zM77 58h1v1h-1zM70 59h1v1h-1zM77 59h2v1h-2zM80 59h1v1h-1zM33 60h1v1h-1zM44 61h1v1h-1zM69 61h1v1h-1zM77 61h1v1h-1zM81 62h1v1h-1zM25 63h1v1h-1zM27 63h1v1h-1zM41 63h1v1h-1zM13 64h1v1h-1zM38 64h1v1h-1zM5 65h1v1h-1zM27 65h1v1h-1zM38 65h1v1h-1zM62 65h1v1h-1zM69 65h1v1h-1zM22 66h1v1h-1zM4 67h1v1h-1zM31 67h1v1h-1zM83 67h1v1h-1zM20 68h1v1h-1zM22 68h1v1h-1zM72 68h1v1h-1zM1 69h1v1h-1zM6 69h2v1h-2zM22 69h1v1h-1zM26 69h1v1h-1zM48 69h1v1h-1zM65 69h1v1h-1z"/>
<path fill="#00b6ff" d="M3 0h1v1h-1zM32 0h2v1h-2zM63 0h1v1h-1zM65 0h1v1h-1zM68 0h2v1h-2zM73 0h1v1h-1zM79 0h1v1h-1zM12 1h1v1h-1zM16 1h1v1h-1zM18 1h1v1h-1zM74 1h1v1h-1zM11 2h1v1h-1zM17 2h1v1h-1zM26 2h1v1h-1zM43 2h1v1h-1zM71 2h1v1h-1zM74 2h1v1h-1zM79 2h1v1h-1zM82 2h1v1h-1zM85 2h1v1h-1zM87 2h1v1h-1zM89 2h1v1h-1zM0 3h1v1h-1zM11 3h1v1h-1zM48 3h1v1h-1zM55 3h1v1h-1zM66 3h1v1h-1zM70 3h1v1h-1zM85 3h1v1h-1zM88 3h1v1h-1zM20 4h1v1h-1zM30 4h1v1h-1zM34 4h1v1h-1zM39 4h1v1h-1zM53 4h1v1h-1zM58 4h1v1h-1zM64 4h1v1h-1zM71 4h1v1h-1zM78 4h1v1h-1zM83 4h1v1h-1zM43 5h1v1h-1zM88 5h1v1h-1zM49 6h1v1h-1zM55 6h1v1h-1zM79 6h1v1h-1zM87 6h1v1h-1zM2 7h1v1h-1zM9 7h1v1h-1zM11 7h1v1h-1zM19 7h1v1h-1zM41 7h1v1h-1zM12 8h1v1h-1zM15 8h1v1h-1zM19 8h1v1h-1zM39 8h1v1h-1zM46 8h1v1h-1zM49 8h1v1h-1zM68 8h1v1h-1zM71 8h2v1h-2zM12 9h1v1h-1zM38 9h1v1h-1zM1 10h1v1h-1zM19 10h1v1h-1zM22 10h1v1h-1zM0 11h1v1h-1zM16 11h1v1h-1zM18 11h1v1h-1zM77 11h1v1h-1zM41 12h1v1h-1zM78 12h1v1h-1zM29 13h1v1h-1zM39 14h2v1h-2zM83 14h1v1h-1zM4 15h1v1h-1zM7 15h1v1h-1zM23 15h1v1h-1zM50 15h1v1h-1zM79 15h1v1h-1zM81 15h1v1h-1zM3 16h1v1h-1zM4 17h1v1h-1zM9 17h1v1h-1zM28 17h1v1h-1zM66 17h1v1h-1zM74 18h1v1h-1zM80 18h1v1h-1zM86 19h1v1h-1zM14 20h1v1h-1zM46 20h2v1h-2zM75 21h1v1h-1zM80 21h1v1h-1zM77 22h1v1h-1zM80 23h1v1h-1zM68 24h1v1h-1zM76 24h1v1h-1zM84 24h1v1h-1zM78 25h1v1h-1zM81 25h1v1h-1zM89 26h1v1h-1zM0 27h1v1h-1zM79 27h1v1h-1zM7 29h1v1h-1zM29 29h1v1h-1zM80 29h1v1h-1zM88 29h1v1h-1zM10 30h1v1h-1zM30 30h1v1h-1zM78 30h1v1h-1zM4 31h1v1h-1zM9 32h1v1h-1zM11 32h1v1h-1zM70 32h1v1h-1zM86 32h1v1h-1zM71 33h1v1h-1zM0 34h1v1h-1zM67 35h1v1h-1zM2 36h1v1h-1zM8 36h3v1h-3zM13 36h1v1h-1zM79 36h1v1h-1zM72 37h1v1h-1zM8 38h1v1h-1zM14 38h1v1h-1zM19 38h1v1h-1zM4 39h1v1h-1zM9 39h1v1h-1zM13 39h1v1h-1zM16 39h1v1h-1zM18 39h1v1h-1zM9 40h1v1h-1zM15 40h1v1h-1zM25 40h1v1h-1zM65 40h1v1h-1zM69 40h1v1h-1zM65 41h1v1h-1zM72 41h1v1h-1zM81 41h1v1h-1zM11 42h1v1h-1zM76 43h1v1h-1zM1 45h1v1h-1zM29 45h1v1h-1zM54 45h1v1h-1zM74 45h1v1h-1zM1 46h1v1h-1zM64 46h1v1h-1zM87 46h1v1h-1zM72 47h1v1h-1zM80 47h1v1h-1zM9 48h1v1h-1zM1 49h1v1h-1zM70 49h1v1h-1zM74 49h1v1h-1zM87 49h2v1h-2zM3 50h1v1h-1zM20 50h1v1h-1zM28 50h1v1h-1zM35 50h1v1h-1zM73 50h1v1h-1zM71 51h1v1h-1zM78 51h1v1h-1zM21 52h1v1h-1zM69 52h2v1h-2zM84 52h1v1h-1zM65 53h1v1h-1zM70 53h1v1h-1zM89 53h1v1h-1zM1 54h1v1h-1zM11 54h1v1h-1zM21 54h1v1h-1zM68 54h1v1h-1zM75 54h1v1h-1zM90 54h1v1h-1zM31 55h1v1h-1zM50 55h1v1h-1zM70 55h1v1h-1zM75 55h1v1h-1zM67 56h1v1h-1zM40 57h1v1h-1zM52 57h1v1h-1zM76 57h1v1h-1zM85 58h1v1h-1zM88 59h1v1h-1zM25 60h1v1h-1zM28 60h1v1h-1zM69 60h1v1h-1zM77 60h2v1h-2zM88 60h1v1h-1zM28 61h2v1h-2zM0 62h1v1h-1zM56 62h1v1h-1zM31 63h1v1h-1zM78 63h1v1h-1zM28 64h1v1h-1zM40 64h1v1h-1zM71 64h1v1h-1zM81 64h1v1h-1zM86 65h1v1h-1zM2 66h1v1h-1zM40 66h1v1h-1zM10 67h1v1h-1zM36 67h1v1h-1zM66 67h1v1h-1zM76 67h1v1h-1zM2 68h1v1h-1zM8 68h1v1h-1zM21 68h1v1h-1zM26 68h1v1h-1zM40 68h1v1h-1zM66 68h2v1h-2zM71 68h1v1h-1zM23 69h1v1h-1zM1 70h1v1h-1zM26 70h1v1h-1zM44 70h1v1h-1zM69 70h1v1h-1zM76 70h1v1h-1z"/>
<path fill="#00d6ff" d="M1 0h1v1h-1zM31 0h1v1h-1zM64 0h1v1h-1zM66 0h1v1h-1zM81 0h1v1h-1zM0 1h1v1h-1zM24 1h1v1h-1zM80 1h2v1h-2zM7 2h1v1h-1zM37 2h1v1h-1zM44 2h1v1h-1zM66 2h2v1h-2zM10 3h1v1h-1zM49 3h1v1h-1zM71 3h1v1h-1zM74 3h1v1h-1zM87 3h1v1h-1zM90 3h1v1h-1zM0 4h1v1h-1zM4 4h1v1h-1zM16 4h1v1h-1zM47 4h1v1h-1zM56 4h1v1h-1zM74 4h1v1h-1zM12 5h1v1h-1zM34 5h1v1h-1zM82 5h1v1h-1zM7 6h1v1h-1zM9 6h1v1h-1zM38 6h1v1h-1zM42 6h1v1h-1zM57 6h1v1h-1zM62 6h2v1h-2zM85 6h1v1h-1zM8 7h1v1h-1zM15 7h2v1h-2zM71 7h2v1h-2zM83 7h1v1h-1zM88 7h1v1h-1zM7 8h1v1h-1zM13 8h1v1h-1zM67 8h1v1h-1zM89 8h1v1h-1zM1 9h1v1h-1zM26 9h1v1h-1zM0 10h1v1h-1zM24 10h1v1h-1zM28 10h2v1h-2zM41 10h1v1h-1zM48 10h1v1h-1zM52 10h1v1h-1zM55 10h1v1h-1zM1 11h1v1h-1zM25 11h1v1h-1zM29 11h1v1h-1zM34 11h1v1h-1zM48 11h1v1h-1zM54 11h1v1h-1zM58 11h1v1h-1zM76 11h1v1h-1zM78 11h1v1h-1zM43 12h1v1h-1zM53 12h1v1h-1zM11 13h1v1h-1zM27 13h1v1h-1zM77 13h1v1h-1zM83 13h1v1h-1zM5 14h1v1h-1zM11 14h1v1h-1zM13 14h2v1h-2zM26 14h1v1h-1zM74 14h1v1h-1zM76 14h1v1h-1zM81 14h1v1h-1zM85 14h1v1h-1zM14 15h1v1h-1zM22 15h1v1h-1zM65 15h1v1h-1zM74 15h1v1h-1zM80 15h1v1h-1zM84 15h2v1h-2zM87 15h1v1h-1zM9 16h1v1h-1zM21 16h1v1h-1zM28 16h1v1h-1zM61 16h1v1h-1zM66 16h1v1h-1zM74 16h2v1h-2zM83 16h3v1h-3zM5 17h1v1h-1zM10 17h2v1h-2zM23 17h1v1h-1zM32 17h1v1h-1zM88 17h1v1h-1zM10 18h3v1h-3zM17 18h1v1h-1zM27 18h1v1h-1zM29 18h3v1h-3zM10 19h1v1h-1zM16 19h1v1h-1zM23 19h1v1h-1zM25 19h1v1h-1zM29 19h1v1h-1zM48 19h1v1h-1zM55 19h1v1h-1zM1 20h1v1h-1zM3 20h1v1h-1zM9 20h1v1h-1zM74 20h1v1h-1zM85 20h1v1h-1zM5 21h3v1h-3zM82 21h1v1h-1zM1 22h2v1h-2zM19 22h1v1h-1zM22 22h2v1h-2zM46 22h1v1h-1zM74 22h1v1h-1zM4 23h4v1h-4zM40 23h1v1h-1zM42 23h1v1h-1zM5 24h1v1h-1zM27 24h1v1h-1zM7 25h1v1h-1zM27 25h1v1h-1zM57 25h1v1h-1zM5 26h1v1h-1zM8 26h1v1h-1zM75 26h1v1h-1zM10 27h1v1h-1zM43 27h1v1h-1zM76 27h1v1h-1zM84 27h1v1h-1zM10 28h1v1h-1zM15 28h1v1h-1zM36 28h1v1h-1zM38 28h1v1h-1zM2 29h1v1h-1zM9 29h1v1h-1zM65 29h1v1h-1zM73 29h1v1h-1zM78 29h1v1h-1zM13 30h1v1h-1zM17 30h1v1h-1zM33 30h1v1h-1zM73 30h2v1h-2zM79 30h1v1h-1zM88 30h1v1h-1zM66 31h1v1h-1zM73 31h1v1h-1zM13 32h1v1h-1zM25 32h1v1h-1zM55 32h1v1h-1zM5 33h1v1h-1zM13 33h1v1h-1zM13 34h1v1h-1zM20 34h1v1h-1zM66 34h1v1h-1zM6 35h1v1h-1zM38 35h1v1h-1zM66 35h1v1h-1zM6 36h1v1h-1zM33 36h1v1h-1zM0 37h1v1h-1zM11 37h1v1h-1zM18 37h1v1h-1zM54 37h1v1h-1zM70 37h1v1h-1zM5 38h1v1h-1zM16 38h1v1h-1zM69 38h2v1h-2zM1 39h1v1h-1zM10 39h1v1h-1zM19 39h1v1h-1zM52 39h1v1h-1zM54 39h1v1h-1zM18 40h1v1h-1zM27 40h1v1h-1zM33 40h1v1h-1zM12 41h1v1h-1zM58 41h1v1h-1zM12 42h1v1h-1zM58 42h1v1h-1zM10 43h1v1h-1zM28 43h1v1h-1zM1 44h1v1h-1zM12 44h2v1h-2zM22 44h1v1h-1zM28 44h1v1h-1zM53 44h1v1h-1zM0 45h1v1h-1zM4 45h1v1h-1zM11 45h1v1h-1zM27 45h2v1h-2zM48 45h1v1h-1zM82 45h1v1h-1zM25 47h1v1h-1zM87 47h1v1h-1zM22 48h1v1h-1zM25 48h1v1h-1zM41 48h2v1h-2zM48 48h1v1h-1zM11 49h1v1h-1zM41 49h1v1h-1zM19 50h1v1h-1zM40 50h1v1h-1zM80 50h1v1h-1zM19 51h1v1h-1zM26 51h1v1h-1zM33 51h1v1h-1zM66 51h1v1h-1zM13 52h1v1h-1zM19 52h1v1h-1zM41 52h1v1h-1zM71 52h1v1h-1zM11 53h1v1h-1zM39 53h1v1h-1zM41 53h2v1h-2zM63 53h1v1h-1zM33 54h1v1h-1zM41 54h1v1h-1zM48 54h1v1h-1zM58 54h1v1h-1zM63 54h1v1h-1zM65 54h1v1h-1zM67 54h1v1h-1zM39 55h2v1h-2zM4 56h1v1h-1zM17 56h1v1h-1zM30 56h1v1h-1zM46 56h1v1h-1zM69 56h1v1h-1zM1 57h1v1h-1zM17 57h1v1h-1zM22 57h1v1h-1zM54 57h1v1h-1zM57 57h2v1h-2zM3 58h1v1h-1zM27 58h1v1h-1zM30 58h1v1h-1zM60 58h1v1h-1zM55 59h1v1h-1zM3 60h1v1h-1zM40 60h1v1h-1zM64 60h1v1h-1zM25 61h1v1h-1zM33 61h1v1h-1zM41 61h1v1h-1zM65 61h1v1h-1zM6 62h2v1h-2zM12 62h2v1h-2zM25 62h1v1h-1zM32 62h1v1h-1zM32 63h1v1h-1zM57 63h2v1h-2zM67 63h1v1h-1zM17 64h1v1h-1zM21 64h1v1h-1zM78 64h1v1h-1zM6 65h1v1h-1zM9 65h1v1h-1zM25 65h1v1h-1zM29 65h1v1h-1zM83 65h2v1h-2zM4 66h1v1h-1zM23 66h1v1h-1zM25 66h2v1h-2zM31 66h1v1h-1zM41 66h1v1h-1zM44 66h1v1h-1zM80 66h1v1h-1zM3 67h1v1h-1zM8 67h1v1h-1zM21 67h1v1h-1zM25 67h1v1h-1zM54 67h1v1h-1zM3 68h1v1h-1zM23 68h1v1h-1zM64 68h1v1h-1zM38 69h2v1h-2zM45 70h1v1h-1zM62 70h1v1h-1z"/>
<path fill="#00efff" d="M22 0h1v1h-1zM34 0h1v1h-1zM17 1h1v1h-1zM22 1h1v1h-1zM42 1h1v1h-1zM60 1h1v1h-1zM64 1h1v1h-1zM66 1h1v1h-1zM21 2h1v1h-1zM23 2h1v1h-1zM45 2h1v1h-1zM54 2h2v1h-2zM80 2h1v1h-1zM8 3h1v1h-1zM42 3h1v1h-1zM84 3h1v1h-1zM86 3h1v1h-1zM23 4h1v1h-1zM51 4h1v1h-1zM11 5h1v1h-1zM51 5h2v1h-2zM60 5h1v1h-1zM70 5h1v1h-1zM81 5h1v1h-1zM85 5h1v1h-1zM8 6h1v1h-1zM10 6h1v1h-1zM19 6h1v1h-1zM29 6h1v1h-1zM48 6h1v1h-1zM53 6h1v1h-1zM61 6h1v1h-1zM82 6h1v1h-1zM7 7h1v1h-1zM22 7h1v1h-1zM70 7h1v1h-1zM22 8h1v1h-1zM7 9h1v1h-1zM35 9h1v1h-1zM40 9h1v1h-1zM50 9h1v1h-1zM53 9h1v1h-1zM62 9h1v1h-1zM66 9h1v1h-1zM89 9h2v1h-2zM25 10h2v1h-2zM35 10h1v1h-1zM47 10h1v1h-1zM60 10h1v1h-1zM90 10h1v1h-1zM27 11h1v1h-1zM36 11h1v1h-1zM39 11h3v1h-3zM45 11h2v1h-2zM49 11h2v1h-2zM67 11h1v1h-1zM6 12h1v1h-1zM16 12h2v1h-2zM27 12h1v1h-1zM32 12h1v1h-1zM48 12h2v1h-2zM17 13h1v1h-1zM43 13h1v1h-1zM58 13h1v1h-1zM47 14h1v1h-1zM72 14h1v1h-1zM77 14h1v1h-1zM79 14h1v1h-1zM84 14h1v1h-1zM2 15h2v1h-2zM13 15h1v1h-1zM15 15h1v1h-1zM64 15h1v1h-1zM75 15h1v1h-1zM86 15h1v1h-1zM39 16h1v1h-1zM62 16h1v1h-1zM79 16h1v1h-1zM16 17h1v1h-1zM26 17h1v1h-1zM49 17h1v1h-1zM74 17h1v1h-1zM77 17h1v1h-1zM20 18h1v1h-1zM32 18h1v1h-1zM38 18h1v1h-1zM0 19h1v1h-1zM6 19h1v1h-1zM15 19h1v1h-1zM17 19h1v1h-1zM19 19h1v1h-1zM21 19h1v1h-1zM27 19h2v1h-2zM64 19h1v1h-1zM76 19h1v1h-1zM89 19h1v1h-1zM2 20h1v1h-1zM5 20h1v1h-1zM7 20h1v1h-1zM10 20h1v1h-1zM22 20h1v1h-1zM25 20h1v1h-1zM27 20h2v1h-2zM64 20h1v1h-1zM1 21h1v1h-1zM3 21h1v1h-1zM10 21h1v1h-1zM17 21h1v1h-1zM78 21h2v1h-2zM3 22h1v1h-1zM27 23h1v1h-1zM41 23h1v1h-1zM66 23h1v1h-1zM88 23h1v1h-1zM7 24h2v1h-2zM45 24h1v1h-1zM4 25h3v1h-3zM14 25h1v1h-1zM76 25h1v1h-1zM85 25h1v1h-1zM87 25h1v1h-1zM7 26h1v1h-1zM10 26h1v1h-1zM62 26h1v1h-1zM76 26h1v1h-1zM85 26h1v1h-1zM2 27h1v1h-1zM9 27h1v1h-1zM29 27h1v1h-1zM57 27h1v1h-1zM74 27h1v1h-1zM85 27h2v1h-2zM8 28h1v1h-1zM17 28h1v1h-1zM32 28h1v1h-1zM56 28h1v1h-1zM61 28h1v1h-1zM68 28h3v1h-3zM75 28h1v1h-1zM77 28h1v1h-1zM85 28h1v1h-1zM35 29h1v1h-1zM66 29h1v1h-1zM68 29h1v1h-1zM71 29h1v1h-1zM74 29h1v1h-1zM14 30h2v1h-2zM81 30h1v1h-1zM89 30h2v1h-2zM13 31h4v1h-4zM20 31h1v1h-1zM49 31h1v1h-1zM57 31h1v1h-1zM12 32h1v1h-1zM15 32h1v1h-1zM48 32h1v1h-1zM54 32h1v1h-1zM68 32h1v1h-1zM54 33h1v1h-1zM68 33h1v1h-1zM14 34h1v1h-1zM32 34h1v1h-1zM39 34h1v1h-1zM2 35h1v1h-1zM7 35h1v1h-1zM9 35h1v1h-1zM21 35h1v1h-1zM3 36h2v1h-2zM14 36h1v1h-1zM53 36h1v1h-1zM68 36h1v1h-1zM75 36h1v1h-1zM64 37h1v1h-1zM73 37h1v1h-1zM13 38h1v1h-1zM51 39h1v1h-1zM53 39h1v1h-1zM61 39h1v1h-1zM52 40h1v1h-1zM55 40h1v1h-1zM0 41h1v1h-1zM23 41h1v1h-1zM32 41h1v1h-1zM51 41h1v1h-1zM13 43h1v1h-1zM54 43h1v1h-1zM14 44h1v1h-1zM21 44h1v1h-1zM27 44h1v1h-1zM29 44h1v1h-1zM51 44h1v1h-1zM44 45h1v1h-1zM49 45h1v1h-1zM56 45h1v1h-1zM65 45h1v1h-1zM0 46h1v1h-1zM21 46h1v1h-1zM58 46h1v1h-1zM1 47h1v1h-1zM36 47h1v1h-1zM69 47h1v1h-1zM70 48h1v1h-1zM40 49h1v1h-1zM1 50h1v1h-1zM38 50h1v1h-1zM65 50h1v1h-1zM81 50h1v1h-1zM20 51h1v1h-1zM67 51h1v1h-1zM42 52h1v1h-1zM44 52h1v1h-1zM62 52h1v1h-1zM66 52h1v1h-1zM73 52h1v1h-1zM88 52h1v1h-1zM1 53h1v1h-1zM6 53h1v1h-1zM43 53h1v1h-1zM12 54h1v1h-1zM43 54h1v1h-1zM53 54h1v1h-1zM0 55h1v1h-1zM8 55h2v1h-2zM12 55h1v1h-1zM58 55h1v1h-1zM64 55h1v1h-1zM67 55h1v1h-1zM23 56h1v1h-1zM31 56h1v1h-1zM40 56h1v1h-1zM51 56h1v1h-1zM53 56h1v1h-1zM85 56h2v1h-2zM18 57h1v1h-1zM36 57h1v1h-1zM39 57h1v1h-1zM41 57h1v1h-1zM2 58h1v1h-1zM12 58h1v1h-1zM35 58h1v1h-1zM42 58h1v1h-1zM48 58h2v1h-2zM2 59h1v1h-1zM11 59h1v1h-1zM26 59h1v1h-1zM44 59h1v1h-1zM53 59h1v1h-1zM76 59h1v1h-1zM9 60h1v1h-1zM11 60h1v1h-1zM42 60h1v1h-1zM56 60h1v1h-1zM8 61h1v1h-1zM23 61h1v1h-1zM32 61h1v1h-1zM42 61h2v1h-2zM59 61h1v1h-1zM2 62h1v1h-1zM15 62h1v1h-1zM23 62h2v1h-2zM42 62h1v1h-1zM64 62h1v1h-1zM1 63h1v1h-1zM23 63h1v1h-1zM1 64h1v1h-1zM23 64h2v1h-2zM27 64h1v1h-1zM4 65h1v1h-1zM10 65h1v1h-1zM24 65h1v1h-1zM42 65h1v1h-1zM55 65h1v1h-1zM60 65h2v1h-2zM5 66h1v1h-1zM21 66h1v1h-1zM24 66h1v1h-1zM33 66h1v1h-1zM42 66h1v1h-1zM68 66h1v1h-1zM82 66h1v1h-1zM9 67h1v1h-1zM9 68h1v1h-1zM25 68h1v1h-1zM70 68h1v1h-1zM77 68h1v1h-1zM0 69h1v1h-1zM20 69h2v1h-2zM25 69h1v1h-1zM34 69h2v1h-2zM44 69h1v1h-1zM72 69h1v1h-1zM5 70h1v1h-1zM18 70h2v1h-2z"/>
<path fill="#09fff6" d="M6 0h1v1h-1zM9 0h1v1h-1zM21 0h1v1h-1zM53 0h1v1h-1zM60 0h1v1h-1zM21 1h1v1h-1zM43 1h1v1h-1zM56 1h1v1h-1zM40 2h1v1h-1zM50 2h1v1h-1zM76 2h1v1h-1zM83 2h1v1h-1zM7 3h1v1h-1zM18 3h1v1h-1zM53 3h1v1h-1zM82 3h2v1h-2zM3 4h1v1h-1zM6 4h1v1h-1zM32 4h1v1h-1zM52 4h1v1h-1zM59 4h2v1h-2zM13 5h1v1h-1zM49 5h1v1h-1zM57 5h1v1h-1zM68 5h1v1h-1zM71 5h1v1h-1zM84 5h1v1h-1zM89 5h1v1h-1zM6 6h1v1h-1zM12 6h1v1h-1zM33 6h1v1h-1zM56 6h1v1h-1zM86 6h1v1h-1zM0 7h1v1h-1zM10 7h1v1h-1zM45 7h1v1h-1zM86 7h1v1h-1zM90 7h1v1h-1zM6 8h1v1h-1zM18 8h1v1h-1zM27 8h2v1h-2zM36 8h1v1h-1zM40 8h2v1h-2zM44 8h1v1h-1zM50 8h1v1h-1zM66 8h1v1h-1zM86 8h2v1h-2zM90 8h1v1h-1zM24 9h1v1h-1zM13 10h1v1h-1zM18 10h1v1h-1zM26 11h1v1h-1zM33 11h1v1h-1zM43 11h2v1h-2zM51 11h1v1h-1zM39 12h1v1h-1zM81 12h1v1h-1zM1 13h1v1h-1zM16 13h1v1h-1zM35 13h1v1h-1zM60 13h1v1h-1zM76 13h1v1h-1zM3 14h1v1h-1zM16 14h1v1h-1zM24 14h1v1h-1zM75 14h1v1h-1zM10 15h1v1h-1zM34 15h1v1h-1zM13 17h3v1h-3zM75 17h2v1h-2zM85 17h1v1h-1zM15 18h1v1h-1zM18 18h2v1h-2zM28 18h1v1h-1zM49 18h1v1h-1zM78 18h1v1h-1zM84 18h1v1h-1zM86 18h1v1h-1zM89 18h1v1h-1zM5 19h1v1h-1zM83 19h1v1h-1zM4 20h1v1h-1zM6 20h1v1h-1zM18 20h1v1h-1zM20 20h1v1h-1zM24 20h1v1h-1zM26 20h1v1h-1zM63 20h1v1h-1zM82 20h1v1h-1zM2 21h1v1h-1zM22 21h1v1h-1zM29 21h2v1h-2zM60 21h2v1h-2zM4 22h2v1h-2zM26 22h1v1h-1zM54 22h1v1h-1zM81 22h1v1h-1zM54 23h1v1h-1zM86 23h1v1h-1zM3 24h1v1h-1zM32 24h2v1h-2zM40 25h2v1h-2zM52 25h1v1h-1zM56 25h1v1h-1zM80 25h1v1h-1zM1 26h1v1h-1zM4 26h1v1h-1zM6 26h1v1h-1zM9 26h1v1h-1zM77 26h2v1h-2zM75 27h1v1h-1zM12 28h3v1h-3zM84 28h1v1h-1zM86 28h1v1h-1zM8 29h1v1h-1zM15 29h1v1h-1zM17 29h1v1h-1zM30 29h1v1h-1zM33 29h1v1h-1zM36 29h1v1h-1zM69 29h2v1h-2zM8 30h1v1h-1zM11 30h1v1h-1zM19 30h1v1h-1zM64 30h1v1h-1zM75 30h1v1h-1zM22 31h4v1h-4zM65 31h1v1h-1zM68 31h2v1h-2zM75 31h1v1h-1zM85 31h1v1h-1zM90 31h1v1h-1zM3 33h1v1h-1zM1 34h1v1h-1zM31 34h1v1h-1zM67 34h1v1h-1zM72 34h1v1h-1zM78 34h1v1h-1zM14 35h1v1h-1zM1 36h1v1h-1zM11 36h1v1h-1zM20 36h1v1h-1zM31 36h1v1h-1zM55 36h1v1h-1zM4 37h1v1h-1zM14 37h2v1h-2zM20 37h1v1h-1zM62 37h2v1h-2zM80 37h1v1h-1zM15 38h1v1h-1zM26 38h1v1h-1zM82 38h1v1h-1zM0 39h1v1h-1zM33 39h1v1h-1zM82 39h1v1h-1zM17 40h1v1h-1zM19 40h2v1h-2zM26 40h1v1h-1zM16 41h1v1h-1zM21 41h2v1h-2zM24 41h3v1h-3zM53 41h1v1h-1zM71 41h1v1h-1zM13 42h1v1h-1zM25 42h1v1h-1zM27 42h2v1h-2zM52 42h1v1h-1zM86 42h1v1h-1zM25 43h1v1h-1zM90 43h1v1h-1zM30 44h1v1h-1zM54 44h1v1h-1zM3 45h1v1h-1zM15 45h1v1h-1zM53 45h1v1h-1zM73 45h1v1h-1zM19 46h1v1h-1zM27 46h1v1h-1zM53 46h1v1h-1zM59 46h1v1h-1zM27 47h1v1h-1zM37 47h1v1h-1zM28 48h1v1h-1zM58 48h1v1h-1zM75 48h1v1h-1zM84 48h1v1h-1zM10 49h1v1h-1zM28 49h1v1h-1zM42 49h1v1h-1zM79 49h1v1h-1zM23 50h1v1h-1zM39 50h1v1h-1zM41 50h1v1h-1zM64 50h1v1h-1zM66 50h1v1h-1zM88 50h1v1h-1zM0 51h1v1h-1zM41 51h1v1h-1zM64 51h1v1h-1zM43 52h1v1h-1zM60 52h2v1h-2zM16 53h1v1h-1zM33 53h1v1h-1zM44 53h1v1h-1zM46 53h1v1h-1zM5 54h1v1h-1zM8 54h1v1h-1zM52 54h1v1h-1zM32 55h1v1h-1zM42 55h1v1h-1zM51 55h1v1h-1zM68 55h2v1h-2zM21 56h1v1h-1zM43 56h1v1h-1zM52 56h1v1h-1zM8 57h1v1h-1zM34 57h2v1h-2zM47 57h1v1h-1zM55 57h1v1h-1zM65 57h1v1h-1zM16 58h1v1h-1zM19 58h1v1h-1zM29 58h1v1h-1zM34 58h1v1h-1zM39 58h1v1h-1zM41 58h1v1h-1zM50 58h1v1h-1zM61 58h1v1h-1zM3 59h1v1h-1zM28 59h2v1h-2zM34 59h2v1h-2zM41 59h1v1h-1zM52 59h1v1h-1zM54 59h1v1h-1zM72 59h1v1h-1zM34 60h2v1h-2zM41 60h1v1h-1zM24 61h1v1h-1zM26 61h1v1h-1zM34 61h1v1h-1zM70 61h1v1h-1zM14 62h1v1h-1zM22 62h1v1h-1zM26 62h1v1h-1zM45 62h1v1h-1zM58 62h1v1h-1zM69 62h1v1h-1zM10 63h1v1h-1zM13 63h1v1h-1zM22 63h1v1h-1zM10 64h1v1h-1zM16 64h1v1h-1zM26 64h1v1h-1zM32 64h1v1h-1zM70 64h1v1h-1zM13 65h1v1h-1zM15 65h1v1h-1zM41 65h1v1h-1zM65 65h1v1h-1zM76 65h1v1h-1zM79 65h1v1h-1zM89 65h1v1h-1zM6 66h3v1h-3zM7 67h1v1h-1zM23 67h2v1h-2zM10 68h1v1h-1zM24 68h1v1h-1zM33 68h1v1h-1zM36 68h1v1h-1zM37 69h1v1h-1zM0 70h1v1h-1zM21 70h1v1h-1zM24 70h1v1h-1zM31 70h1v1h-1zM68 70h1v1h-1zM88 70h1v1h-1z"/>
<path fill="#44ffbb" d="M10 0h1v1h-1zM12 0h1v1h-1zM19 0h1v1h-1zM39 0h1v1h-1zM80 0h1v1h-1zM48 1h1v1h-1zM57 1h1v1h-1zM34 2h1v1h-1zM52 2h1v1h-1zM68 2h1v1h-1zM81 2h1v1h-1zM4 3h1v1h-1zM16 3h2v1h-2zM77 3h1v1h-1zM7 4h1v1h-1zM90 4h1v1h-1zM8 5h1v1h-1zM74 5h1v1h-1zM3 6h1v1h-1zM5 6h1v1h-1zM5 7h1v1h-1zM56 7h1v1h-1zM25 8h1v1h-1zM32 8h1v1h-1zM55 8h4v1h-4zM21 9h1v1h-1zM25 9h1v1h-1zM55 9h1v1h-1zM9 10h1v1h-1zM53 10h1v1h-1zM7 11h1v1h-1zM11 11h1v1h-1zM19 11h1v1h-1zM66 11h1v1h-1zM80 11h1v1h-1zM25 12h1v1h-1zM51 12h2v1h-2zM75 12h1v1h-1zM79 12h1v1h-1zM13 13h1v1h-1zM49 13h1v1h-1zM0 14h1v1h-1zM15 14h1v1h-1zM31 15h1v1h-1zM39 15h1v1h-1zM72 15h1v1h-1zM14 16h1v1h-1zM46 16h4v1h-4zM86 16h1v1h-1zM17 17h1v1h-1zM24 17h2v1h-2zM46 17h1v1h-1zM48 17h1v1h-1zM73 17h1v1h-1zM40 18h1v1h-1zM62 18h1v1h-1zM71 18h3v1h-3zM75 18h1v1h-1zM90 19h1v1h-1zM0 20h1v1h-1zM41 20h1v1h-1zM59 20h1v1h-1zM71 20h1v1h-1zM75 20h3v1h-3zM0 21h1v1h-1zM20 21h1v1h-1zM45 21h1v1h-1zM55 21h1v1h-1zM56 22h1v1h-1zM64 22h4v1h-4zM69 22h1v1h-1zM75 22h1v1h-1zM65 23h1v1h-1zM67 23h1v1h-1zM74 23h1v1h-1zM61 24h1v1h-1zM63 24h1v1h-1zM71 24h1v1h-1zM85 24h1v1h-1zM88 24h1v1h-1zM8 25h1v1h-1zM67 25h1v1h-1zM72 25h1v1h-1zM30 26h1v1h-1zM61 26h1v1h-1zM74 26h1v1h-1zM4 28h1v1h-1zM57 28h1v1h-1zM48 29h1v1h-1zM75 29h1v1h-1zM6 30h2v1h-2zM18 30h1v1h-1zM31 30h1v1h-1zM47 30h2v1h-2zM69 30h1v1h-1zM5 31h1v1h-1zM59 31h1v1h-1zM3 32h1v1h-1zM63 32h1v1h-1zM67 32h1v1h-1zM72 32h2v1h-2zM63 33h1v1h-1zM5 36h1v1h-1zM15 36h2v1h-2zM5 37h1v1h-1zM16 37h1v1h-1zM33 37h1v1h-1zM29 38h1v1h-1zM61 38h1v1h-1zM4 40h1v1h-1zM43 40h1v1h-1zM90 40h1v1h-1zM53 42h1v1h-1zM26 43h1v1h-1zM30 43h1v1h-1zM31 44h1v1h-1zM60 44h1v1h-1zM14 45h1v1h-1zM17 45h1v1h-1zM22 45h1v1h-1zM31 45h1v1h-1zM51 45h1v1h-1zM59 45h1v1h-1zM84 45h1v1h-1zM5 46h1v1h-1zM26 46h1v1h-1zM15 47h1v1h-1zM47 47h1v1h-1zM62 47h1v1h-1zM27 48h1v1h-1zM52 48h1v1h-1zM68 48h1v1h-1zM72 48h1v1h-1zM2 49h1v1h-1zM26 49h2v1h-2zM60 49h1v1h-1zM65 49h1v1h-1zM26 50h2v1h-2zM61 50h2v1h-2zM3 51h1v1h-1zM27 51h1v1h-1zM86 51h1v1h-1zM7 52h1v1h-1zM45 52h1v1h-1zM3 54h1v1h-1zM44 54h1v1h-1zM43 55h1v1h-1zM65 55h1v1h-1zM83 55h1v1h-1zM9 56h1v1h-1zM20 56h1v1h-1zM41 56h1v1h-1zM54 56h1v1h-1zM63 56h1v1h-1zM19 57h1v1h-1zM29 57h1v1h-1zM37 57h1v1h-1zM62 57h1v1h-1zM66 57h1v1h-1zM17 58h1v1h-1zM27 60h1v1h-1zM60 60h1v1h-1zM66 60h1v1h-1zM4 62h1v1h-1zM34 62h1v1h-1zM55 62h1v1h-1zM63 62h1v1h-1zM87 63h1v1h-1zM63 64h1v1h-1zM66 64h1v1h-1zM8 65h1v1h-1zM21 65h1v1h-1zM44 65h1v1h-1zM63 65h1v1h-1zM82 65h1v1h-1zM15 66h1v1h-1zM63 66h1v1h-1zM71 66h1v1h-1zM0 67h1v1h-1zM15 67h1v1h-1zM32 67h1v1h-1zM45 67h1v1h-1zM55 67h1v1h-1zM63 67h1v1h-1zM6 68h1v1h-1zM41 68h1v1h-1zM24 69h1v1h-1zM45 69h1v1h-1zM71 69h1v1h-1zM74 69h2v1h-2zM66 70h1v1h-1z"/>
<path fill="#5dffa2" d="M22 3h1v1h-1zM60 3h1v1h-1zM79 3h1v1h-1zM14 4h1v1h-1zM84 4h1v1h-1zM2 5h1v1h-1zM7 5h1v1h-1zM9 5h2v1h-2zM30 5h1v1h-1zM58 5h1v1h-1zM62 5h1v1h-1zM4 6h1v1h-1zM58 6h1v1h-1zM90 6h1v1h-1zM1 7h1v1h-1zM3 7h1v1h-1zM44 7h1v1h-1zM51 7h1v1h-1zM55 7h1v1h-1zM57 7h1v1h-1zM59 7h1v1h-1zM26 8h1v1h-1zM14 9h1v1h-1zM52 9h1v1h-1zM14 10h1v1h-1zM49 10h2v1h-2zM6 11h1v1h-1zM14 11h1v1h-1zM53 11h1v1h-1zM75 11h1v1h-1zM1 12h1v1h-1zM85 12h1v1h-1zM18 13h1v1h-1zM25 13h1v1h-1zM74 13h1v1h-1zM84 13h1v1h-1zM12 14h1v1h-1zM52 14h1v1h-1zM73 14h1v1h-1zM78 14h1v1h-1zM11 15h1v1h-1zM38 15h1v1h-1zM70 15h1v1h-1zM78 15h1v1h-1zM25 16h1v1h-1zM77 16h1v1h-1zM22 17h1v1h-1zM39 17h1v1h-1zM72 17h1v1h-1zM69 18h2v1h-2zM40 19h1v1h-1zM42 20h1v1h-1zM88 20h1v1h-1zM27 21h1v1h-1zM56 21h1v1h-1zM74 21h1v1h-1zM70 23h1v1h-1zM84 23h1v1h-1zM81 24h1v1h-1zM60 25h2v1h-2zM68 25h1v1h-1zM73 25h2v1h-2zM88 25h1v1h-1zM15 26h1v1h-1zM52 26h1v1h-1zM79 26h1v1h-1zM1 27h1v1h-1zM14 27h1v1h-1zM48 27h1v1h-1zM56 27h1v1h-1zM72 27h1v1h-1zM2 28h2v1h-2zM6 28h1v1h-1zM23 28h1v1h-1zM48 28h1v1h-1zM71 28h2v1h-2zM83 28h1v1h-1zM21 29h1v1h-1zM72 29h1v1h-1zM5 30h1v1h-1zM20 30h1v1h-1zM68 30h1v1h-1zM86 30h1v1h-1zM12 31h1v1h-1zM19 31h1v1h-1zM67 31h1v1h-1zM70 31h1v1h-1zM18 32h1v1h-1zM47 32h1v1h-1zM64 32h1v1h-1zM85 32h1v1h-1zM15 34h1v1h-1zM79 34h1v1h-1zM17 37h1v1h-1zM35 37h1v1h-1zM33 38h1v1h-1zM35 38h1v1h-1zM71 38h1v1h-1zM5 39h1v1h-1zM34 39h1v1h-1zM44 39h1v1h-1zM71 39h1v1h-1zM49 40h2v1h-2zM76 40h1v1h-1zM78 40h1v1h-1zM1 41h1v1h-1zM9 41h1v1h-1zM17 41h2v1h-2zM30 41h2v1h-2zM70 41h1v1h-1zM22 42h1v1h-1zM30 42h1v1h-1zM60 42h1v1h-1zM21 43h1v1h-1zM31 43h1v1h-1zM73 43h1v1h-1zM6 44h1v1h-1zM23 44h1v1h-1zM5 45h1v1h-1zM12 45h1v1h-1zM26 45h1v1h-1zM30 45h1v1h-1zM52 45h1v1h-1zM48 46h1v1h-1zM52 46h1v1h-1zM57 46h1v1h-1zM66 46h1v1h-1zM3 47h1v1h-1zM63 47h1v1h-1zM66 48h2v1h-2zM3 49h1v1h-1zM19 49h1v1h-1zM64 49h1v1h-1zM4 50h2v1h-2zM59 50h1v1h-1zM12 51h1v1h-1zM63 51h1v1h-1zM22 52h1v1h-1zM56 53h1v1h-1zM6 54h1v1h-1zM34 54h1v1h-1zM37 54h1v1h-1zM23 55h1v1h-1zM48 55h1v1h-1zM36 56h1v1h-1zM64 56h1v1h-1zM20 57h1v1h-1zM49 57h2v1h-2zM28 58h1v1h-1zM40 58h1v1h-1zM46 58h2v1h-2zM47 59h1v1h-1zM32 60h1v1h-1zM3 62h1v1h-1zM57 62h1v1h-1zM59 62h1v1h-1zM38 63h1v1h-1zM9 64h1v1h-1zM34 64h1v1h-1zM62 64h1v1h-1zM12 65h1v1h-1zM3 66h1v1h-1zM2 67h1v1h-1zM48 67h1v1h-1zM52 67h2v1h-2zM65 68h1v1h-1zM9 69h2v1h-2zM61 69h1v1h-1zM67 69h1v1h-1zM25 70h1v1h-1zM33 70h1v1h-1zM54 70h1v1h-1zM59 70h1v1h-1z"/>
<path fill="#76ff89" d="M11 0h1v1h-1zM13 1h1v1h-1zM36 1h1v1h-1zM5 2h1v1h-1zM56 2h1v1h-1zM15 3h1v1h-1zM24 3h1v1h-1zM31 3h1v1h-1zM36 4h1v1h-1zM61 4h1v1h-1zM3 5h1v1h-1zM38 5h1v1h-1zM46 5h1v1h-1zM90 5h1v1h-1zM36 6h1v1h-1zM51 6h1v1h-1zM81 6h1v1h-1zM89 6h1v1h-1zM4 7h1v1h-1zM32 7h1v1h-1zM60 7h1v1h-1zM59 8h1v1h-1zM88 8h1v1h-1zM13 9h1v1h-1zM22 9h1v1h-1zM37 9h1v1h-1zM46 9h1v1h-1zM54 9h1v1h-1zM56 9h1v1h-1zM40 10h1v1h-1zM89 10h1v1h-1zM12 11h1v1h-1zM21 11h1v1h-1zM52 11h1v1h-1zM65 11h1v1h-1zM18 12h1v1h-1zM31 12h1v1h-1zM6 13h1v1h-1zM31 13h1v1h-1zM75 13h1v1h-1zM35 15h1v1h-1zM41 15h1v1h-1zM71 15h1v1h-1zM73 15h1v1h-1zM12 17h1v1h-1zM38 17h1v1h-1zM44 17h1v1h-1zM61 17h1v1h-1zM21 18h1v1h-1zM57 18h1v1h-1zM63 18h1v1h-1zM39 19h1v1h-1zM57 19h1v1h-1zM59 19h1v1h-1zM17 20h1v1h-1zM23 20h1v1h-1zM89 20h1v1h-1zM21 21h1v1h-1zM24 21h1v1h-1zM28 21h1v1h-1zM71 21h1v1h-1zM73 21h1v1h-1zM68 22h1v1h-1zM4 24h1v1h-1zM39 24h1v1h-1zM54 24h1v1h-1zM59 24h2v1h-2zM62 24h1v1h-1zM75 24h1v1h-1zM87 24h1v1h-1zM34 25h1v1h-1zM63 25h1v1h-1zM69 25h1v1h-1zM71 25h1v1h-1zM16 26h1v1h-1zM49 26h1v1h-1zM51 26h1v1h-1zM47 27h1v1h-1zM69 27h1v1h-1zM81 27h1v1h-1zM83 27h1v1h-1zM5 28h1v1h-1zM64 28h1v1h-1zM64 29h1v1h-1zM81 29h1v1h-1zM83 30h1v1h-1zM11 31h1v1h-1zM47 31h1v1h-1zM76 31h1v1h-1zM2 32h1v1h-1zM17 32h1v1h-1zM19 32h1v1h-1zM71 32h1v1h-1zM64 33h1v1h-1zM69 33h1v1h-1zM19 37h1v1h-1zM51 38h1v1h-1zM17 39h1v1h-1zM30 39h1v1h-1zM0 40h1v1h-1zM14 40h1v1h-1zM24 40h1v1h-1zM27 41h1v1h-1zM35 41h1v1h-1zM52 41h1v1h-1zM31 42h1v1h-1zM46 42h1v1h-1zM54 42h1v1h-1zM72 42h1v1h-1zM61 43h1v1h-1zM71 43h1v1h-1zM4 44h1v1h-1zM58 44h2v1h-2zM13 45h1v1h-1zM40 45h1v1h-1zM55 45h1v1h-1zM60 45h2v1h-2zM28 46h1v1h-1zM61 46h1v1h-1zM16 47h1v1h-1zM36 48h2v1h-2zM64 48h1v1h-1zM67 49h2v1h-2zM80 49h1v1h-1zM11 50h1v1h-1zM56 50h1v1h-1zM60 50h1v1h-1zM63 50h1v1h-1zM82 50h1v1h-1zM86 50h2v1h-2zM1 51h1v1h-1zM23 51h1v1h-1zM62 51h1v1h-1zM65 51h1v1h-1zM87 51h1v1h-1zM24 52h1v1h-1zM65 52h1v1h-1zM52 53h1v1h-1zM59 53h1v1h-1zM66 53h1v1h-1zM42 54h1v1h-1zM6 55h1v1h-1zM33 55h1v1h-1zM49 55h1v1h-1zM52 55h1v1h-1zM19 56h1v1h-1zM21 57h1v1h-1zM45 57h1v1h-1zM48 57h1v1h-1zM63 57h1v1h-1zM31 58h1v1h-1zM43 58h2v1h-2zM48 59h1v1h-1zM69 59h1v1h-1zM65 60h1v1h-1zM11 61h1v1h-1zM8 62h1v1h-1zM87 62h1v1h-1zM9 63h1v1h-1zM33 63h1v1h-1zM63 63h1v1h-1zM12 64h1v1h-1zM58 64h1v1h-1zM67 64h1v1h-1zM26 65h1v1h-1zM55 66h1v1h-1zM62 66h1v1h-1zM6 67h1v1h-1zM14 67h1v1h-1zM64 67h2v1h-2zM82 67h1v1h-1zM85 67h1v1h-1zM7 68h1v1h-1zM2 69h1v1h-1zM10 70h1v1h-1zM23 70h1v1h-1zM46 70h1v1h-1zM53 70h1v1h-1z"/>
<path fill="#acff53" d="M18 0h1v1h-1zM43 0h1v1h-1zM59 0h1v1h-1zM53 1h1v1h-1zM6 5h1v1h-1zM44 5h1v1h-1zM65 5h1v1h-1zM34 6h2v1h-2zM45 6h1v1h-1zM6 7h1v1h-1zM69 7h1v1h-1zM0 8h1v1h-1zM76 8h1v1h-1zM32 9h1v1h-1zM49 9h1v1h-1zM57 9h1v1h-1zM20 11h1v1h-1zM15 12h1v1h-1zM37 12h1v1h-1zM50 12h1v1h-1zM74 12h1v1h-1zM51 13h1v1h-1zM73 13h1v1h-1zM85 13h1v1h-1zM4 14h1v1h-1zM34 14h1v1h-1zM17 15h1v1h-1zM45 15h1v1h-1zM67 15h1v1h-1zM44 16h1v1h-1zM71 16h1v1h-1zM40 17h3v1h-3zM48 18h1v1h-1zM64 18h2v1h-2zM68 18h1v1h-1zM11 19h2v1h-2zM34 19h1v1h-1zM56 19h1v1h-1zM58 20h1v1h-1zM14 21h1v1h-1zM43 21h2v1h-2zM66 21h1v1h-1zM69 21h1v1h-1zM20 22h1v1h-1zM25 22h1v1h-1zM27 22h1v1h-1zM3 23h1v1h-1zM9 23h1v1h-1zM20 23h1v1h-1zM45 23h1v1h-1zM55 23h1v1h-1zM62 23h1v1h-1zM68 23h1v1h-1zM85 23h1v1h-1zM9 24h1v1h-1zM13 24h1v1h-1zM16 24h1v1h-1zM55 24h1v1h-1zM12 25h1v1h-1zM22 25h1v1h-1zM28 25h1v1h-1zM35 25h1v1h-1zM43 25h1v1h-1zM25 26h1v1h-1zM27 26h1v1h-1zM69 26h1v1h-1zM84 26h1v1h-1zM27 27h1v1h-1zM31 27h1v1h-1zM42 27h1v1h-1zM64 27h1v1h-1zM68 27h1v1h-1zM73 27h1v1h-1zM16 28h1v1h-1zM29 28h2v1h-2zM35 28h1v1h-1zM42 28h1v1h-1zM74 28h1v1h-1zM20 29h1v1h-1zM25 29h1v1h-1zM31 29h1v1h-1zM46 29h2v1h-2zM67 29h1v1h-1zM23 30h1v1h-1zM28 30h1v1h-1zM32 30h1v1h-1zM34 30h1v1h-1zM71 30h2v1h-2zM21 31h1v1h-1zM30 31h2v1h-2zM26 32h1v1h-1zM46 32h1v1h-1zM49 32h1v1h-1zM15 33h1v1h-1zM21 33h1v1h-1zM25 33h1v1h-1zM66 33h2v1h-2zM17 34h1v1h-1zM21 34h1v1h-1zM23 34h1v1h-1zM26 34h1v1h-1zM28 34h1v1h-1zM30 34h1v1h-1zM10 35h2v1h-2zM13 35h1v1h-1zM23 35h1v1h-1zM29 35h2v1h-2zM44 35h1v1h-1zM29 37h1v1h-1zM31 37h1v1h-1zM34 37h1v1h-1zM24 38h1v1h-1zM31 38h2v1h-2zM50 38h1v1h-1zM46 39h1v1h-1zM78 39h1v1h-1zM32 40h1v1h-1zM34 41h1v1h-1zM44 41h1v1h-1zM21 42h1v1h-1zM42 42h1v1h-1zM59 42h1v1h-1zM43 43h1v1h-1zM50 43h1v1h-1zM72 43h1v1h-1zM40 44h1v1h-1zM42 44h1v1h-1zM82 44h1v1h-1zM21 45h1v1h-1zM39 45h1v1h-1zM50 45h1v1h-1zM22 46h1v1h-1zM31 46h1v1h-1zM40 46h1v1h-1zM11 47h1v1h-1zM14 47h1v1h-1zM22 47h1v1h-1zM24 47h1v1h-1zM41 47h1v1h-1zM54 47h1v1h-1zM65 47h1v1h-1zM15 48h1v1h-1zM43 48h1v1h-1zM12 49h1v1h-1zM14 49h3v1h-3zM43 49h1v1h-1zM62 49h1v1h-1zM12 50h1v1h-1zM17 50h2v1h-2zM18 51h1v1h-1zM34 51h1v1h-1zM37 51h1v1h-1zM44 51h1v1h-1zM59 51h1v1h-1zM10 52h1v1h-1zM14 52h1v1h-1zM46 52h1v1h-1zM17 53h1v1h-1zM37 53h1v1h-1zM47 53h1v1h-1zM51 53h1v1h-1zM53 53h1v1h-1zM83 53h1v1h-1zM0 54h1v1h-1zM13 54h1v1h-1zM19 54h1v1h-1zM40 54h1v1h-1zM59 54h2v1h-2zM62 54h1v1h-1zM1 55h2v1h-2zM4 55h1v1h-1zM0 56h1v1h-1zM3 56h1v1h-1zM22 56h1v1h-1zM42 56h1v1h-1zM55 56h1v1h-1zM65 56h1v1h-1zM70 56h1v1h-1zM59 57h1v1h-1zM68 57h1v1h-1zM1 58h1v1h-1zM4 58h1v1h-1zM10 58h1v1h-1zM57 58h1v1h-1zM68 58h1v1h-1zM57 59h1v1h-1zM61 59h1v1h-1zM67 59h1v1h-1zM59 60h1v1h-1zM64 61h1v1h-1zM9 62h2v1h-2zM0 64h1v1h-1zM87 64h1v1h-1zM67 65h2v1h-2zM70 65h1v1h-1zM67 66h1v1h-1zM68 67h1v1h-1zM72 67h1v1h-1zM78 67h1v1h-1zM90 67h1v1h-1zM44 68h1v1h-1zM48 68h1v1h-1zM78 68h1v1h-1zM3 69h1v1h-1zM67 70h1v1h-1z"/>
<path fill="#c5ff3a" d="M48 0h1v1h-1zM15 1h1v1h-1zM46 1h1v1h-1zM54 1h1v1h-1zM58 1h2v1h-2zM19 2h1v1h-1zM62 4h1v1h-1zM5 5h1v1h-1zM40 5h1v1h-1zM2 6h1v1h-1zM58 7h1v1h-1zM37 10h1v1h-1zM39 10h1v1h-1zM42 10h1v1h-1zM23 11h1v1h-1zM37 11h2v1h-2zM74 11h1v1h-1zM0 12h1v1h-1zM33 12h1v1h-1zM38 12h1v1h-1zM42 12h1v1h-1zM0 13h1v1h-1zM28 13h1v1h-1zM50 13h1v1h-1zM69 13h1v1h-1zM27 14h1v1h-1zM30 14h1v1h-1zM35 14h1v1h-1zM50 14h2v1h-2zM80 14h1v1h-1zM26 15h2v1h-2zM29 15h1v1h-1zM63 15h1v1h-1zM66 15h1v1h-1zM15 16h1v1h-1zM34 16h1v1h-1zM43 16h1v1h-1zM43 17h1v1h-1zM45 17h1v1h-1zM47 17h1v1h-1zM65 17h1v1h-1zM68 17h1v1h-1zM71 17h1v1h-1zM33 18h1v1h-1zM90 18h1v1h-1zM46 19h1v1h-1zM63 19h1v1h-1zM70 19h1v1h-1zM44 20h1v1h-1zM54 20h1v1h-1zM65 20h1v1h-1zM67 20h1v1h-1zM70 20h1v1h-1zM68 21h1v1h-1zM6 22h1v1h-1zM13 22h1v1h-1zM16 22h1v1h-1zM14 23h2v1h-2zM21 23h4v1h-4zM33 23h1v1h-1zM75 23h1v1h-1zM79 23h1v1h-1zM14 24h1v1h-1zM17 24h1v1h-1zM19 24h3v1h-3zM13 25h1v1h-1zM19 25h1v1h-1zM42 25h1v1h-1zM19 26h1v1h-1zM21 26h1v1h-1zM24 26h1v1h-1zM33 26h1v1h-1zM37 26h1v1h-1zM63 26h1v1h-1zM19 27h1v1h-1zM28 27h1v1h-1zM60 27h1v1h-1zM21 28h1v1h-1zM24 28h1v1h-1zM47 28h1v1h-1zM13 29h1v1h-1zM22 29h1v1h-1zM28 29h1v1h-1zM49 30h1v1h-1zM66 30h1v1h-1zM46 31h1v1h-1zM71 31h1v1h-1zM20 32h2v1h-2zM17 33h1v1h-1zM19 33h2v1h-2zM24 33h1v1h-1zM28 33h2v1h-2zM16 34h1v1h-1zM53 34h1v1h-1zM8 35h1v1h-1zM22 35h1v1h-1zM26 35h2v1h-2zM24 36h1v1h-1zM28 36h3v1h-3zM30 37h1v1h-1zM47 37h1v1h-1zM17 38h1v1h-1zM44 38h1v1h-1zM68 38h1v1h-1zM31 39h1v1h-1zM49 39h1v1h-1zM31 40h1v1h-1zM34 40h1v1h-1zM61 40h1v1h-1zM33 41h1v1h-1zM14 42h1v1h-1zM41 42h1v1h-1zM41 43h1v1h-1zM44 43h1v1h-1zM43 44h1v1h-1zM73 44h1v1h-1zM18 45h1v1h-1zM41 45h3v1h-3zM83 45h1v1h-1zM16 46h1v1h-1zM39 46h1v1h-1zM18 47h1v1h-1zM28 47h1v1h-1zM11 48h1v1h-1zM14 48h1v1h-1zM18 48h1v1h-1zM29 48h1v1h-1zM24 49h1v1h-1zM63 49h1v1h-1zM13 50h1v1h-1zM24 50h1v1h-1zM34 50h1v1h-1zM42 50h1v1h-1zM38 51h2v1h-2zM79 51h1v1h-1zM12 52h1v1h-1zM18 52h1v1h-1zM26 52h1v1h-1zM36 52h1v1h-1zM40 52h1v1h-1zM86 52h1v1h-1zM13 53h1v1h-1zM21 53h2v1h-2zM26 53h1v1h-1zM88 53h1v1h-1zM20 54h1v1h-1zM87 54h1v1h-1zM3 55h1v1h-1zM62 55h1v1h-1zM59 56h1v1h-1zM64 57h1v1h-1zM56 58h1v1h-1zM4 59h1v1h-1zM59 59h1v1h-1zM65 62h2v1h-2zM64 64h2v1h-2zM64 65h1v1h-1zM66 65h1v1h-1zM32 66h1v1h-1zM66 66h1v1h-1zM54 68h1v1h-1zM46 69h1v1h-1zM62 69h1v1h-1zM3 70h1v1h-1zM43 70h1v1h-1z"/>
<path fill="#deff21" d="M47 0h1v1h-1zM49 0h1v1h-1zM61 0h1v1h-1zM49 1h1v1h-1zM63 3h1v1h-1zM5 4h1v1h-1zM37 6h1v1h-1zM43 8h1v1h-1zM53 8h1v1h-1zM39 9h1v1h-1zM8 10h1v1h-1zM17 10h1v1h-1zM36 10h1v1h-1zM59 10h1v1h-1zM15 11h1v1h-1zM42 11h1v1h-1zM47 11h1v1h-1zM73 12h1v1h-1zM80 12h1v1h-1zM38 13h1v1h-1zM47 13h1v1h-1zM1 14h1v1h-1zM29 14h1v1h-1zM31 14h1v1h-1zM40 15h1v1h-1zM44 15h1v1h-1zM17 16h1v1h-1zM29 16h1v1h-1zM40 16h1v1h-1zM72 16h1v1h-1zM50 17h1v1h-1zM70 17h1v1h-1zM41 18h1v1h-1zM45 18h1v1h-1zM87 18h1v1h-1zM13 19h1v1h-1zM33 19h1v1h-1zM45 19h1v1h-1zM47 19h1v1h-1zM75 19h1v1h-1zM19 20h1v1h-1zM43 20h1v1h-1zM66 20h1v1h-1zM15 21h1v1h-1zM26 21h1v1h-1zM65 21h1v1h-1zM67 21h1v1h-1zM7 22h1v1h-1zM12 22h1v1h-1zM14 22h2v1h-2zM18 22h1v1h-1zM21 22h1v1h-1zM38 22h1v1h-1zM79 22h1v1h-1zM13 23h1v1h-1zM35 23h1v1h-1zM12 24h1v1h-1zM15 24h1v1h-1zM22 24h2v1h-2zM34 24h1v1h-1zM70 24h1v1h-1zM9 25h1v1h-1zM23 25h2v1h-2zM31 25h1v1h-1zM44 25h1v1h-1zM50 25h2v1h-2zM64 25h1v1h-1zM70 25h1v1h-1zM84 25h1v1h-1zM20 26h1v1h-1zM23 26h1v1h-1zM26 26h1v1h-1zM31 26h1v1h-1zM50 26h1v1h-1zM71 26h1v1h-1zM73 26h1v1h-1zM82 26h1v1h-1zM11 27h1v1h-1zM22 27h2v1h-2zM32 27h1v1h-1zM63 27h1v1h-1zM71 27h1v1h-1zM19 28h2v1h-2zM22 28h1v1h-1zM28 28h1v1h-1zM31 28h1v1h-1zM58 28h1v1h-1zM73 28h1v1h-1zM32 29h1v1h-1zM85 29h1v1h-1zM12 30h1v1h-1zM24 30h1v1h-1zM29 30h1v1h-1zM67 30h1v1h-1zM76 30h1v1h-1zM84 30h1v1h-1zM28 31h2v1h-2zM72 31h1v1h-1zM16 32h1v1h-1zM22 32h1v1h-1zM66 32h1v1h-1zM16 33h1v1h-1zM18 33h1v1h-1zM22 33h2v1h-2zM26 33h1v1h-1zM25 34h1v1h-1zM12 35h1v1h-1zM50 35h1v1h-1zM53 35h1v1h-1zM50 36h1v1h-1zM26 37h1v1h-1zM32 37h1v1h-1zM43 38h1v1h-1zM46 38h1v1h-1zM49 38h1v1h-1zM50 39h1v1h-1zM76 39h1v1h-1zM51 40h1v1h-1zM43 41h1v1h-1zM32 42h3v1h-3zM42 43h1v1h-1zM39 44h1v1h-1zM44 44h1v1h-1zM2 45h1v1h-1zM20 45h1v1h-1zM14 46h2v1h-2zM18 46h1v1h-1zM23 47h1v1h-1zM40 47h1v1h-1zM42 47h2v1h-2zM16 48h1v1h-1zM40 48h1v1h-1zM57 48h1v1h-1zM59 48h1v1h-1zM13 49h1v1h-1zM18 49h1v1h-1zM36 49h2v1h-2zM36 50h1v1h-1zM72 50h1v1h-1zM13 51h1v1h-1zM45 51h1v1h-1zM35 52h1v1h-1zM87 52h1v1h-1zM14 53h1v1h-1zM19 53h1v1h-1zM34 53h1v1h-1zM40 53h1v1h-1zM45 53h1v1h-1zM61 53h2v1h-2zM18 54h1v1h-1zM39 54h1v1h-1zM61 54h1v1h-1zM64 54h1v1h-1zM21 55h2v1h-2zM61 55h1v1h-1zM66 55h1v1h-1zM1 56h1v1h-1zM5 56h1v1h-1zM8 56h1v1h-1zM12 56h1v1h-1zM44 56h1v1h-1zM56 56h1v1h-1zM60 56h2v1h-2zM3 57h1v1h-1zM56 57h1v1h-1zM60 57h1v1h-1zM67 57h1v1h-1zM65 58h2v1h-2zM70 58h1v1h-1zM0 59h1v1h-1zM58 59h1v1h-1zM60 59h1v1h-1zM66 59h1v1h-1zM43 60h1v1h-1zM58 60h1v1h-1zM68 60h1v1h-1zM66 61h1v1h-1zM31 62h1v1h-1zM31 65h2v1h-2zM71 65h2v1h-2zM75 65h1v1h-1zM39 66h1v1h-1zM68 68h1v1h-1zM68 69h2v1h-2zM52 70h1v1h-1z"/>
<path fill="#f3ff0c" d="M35 0h3v1h-3zM51 0h2v1h-2zM50 1h1v1h-1zM55 1h1v1h-1zM0 2h1v1h-1zM48 2h1v1h-1zM39 3h3v1h-3zM45 3h1v1h-1zM41 4h1v1h-1zM63 4h1v1h-1zM65 4h2v1h-2zM42 5h1v1h-1zM45 5h1v1h-1zM59 5h1v1h-1zM72 5h1v1h-1zM44 6h1v1h-1zM46 6h1v1h-1zM52 6h1v1h-1zM60 6h1v1h-1zM64 6h1v1h-1zM89 7h1v1h-1zM47 8h1v1h-1zM85 8h1v1h-1zM48 9h1v1h-1zM88 9h1v1h-1zM46 10h1v1h-1zM88 10h1v1h-1zM90 11h1v1h-1zM11 12h1v1h-1zM26 12h1v1h-1zM32 13h2v1h-2zM32 14h2v1h-2zM38 14h1v1h-1zM46 14h1v1h-1zM67 14h1v1h-1zM69 14h1v1h-1zM71 14h1v1h-1zM12 15h1v1h-1zM16 15h1v1h-1zM46 15h3v1h-3zM68 15h1v1h-1zM12 16h1v1h-1zM32 16h1v1h-1zM63 16h1v1h-1zM59 17h1v1h-1zM64 17h1v1h-1zM87 17h1v1h-1zM23 18h2v1h-2zM34 18h1v1h-1zM37 18h1v1h-1zM44 18h1v1h-1zM35 19h1v1h-1zM37 19h2v1h-2zM43 19h1v1h-1zM65 19h1v1h-1zM68 19h1v1h-1zM73 19h1v1h-1zM11 20h1v1h-1zM60 20h1v1h-1zM9 21h1v1h-1zM11 21h1v1h-1zM32 21h1v1h-1zM34 21h1v1h-1zM41 21h2v1h-2zM72 21h1v1h-1zM8 22h1v1h-1zM28 22h1v1h-1zM45 22h1v1h-1zM60 22h1v1h-1zM63 22h1v1h-1zM71 22h1v1h-1zM73 22h1v1h-1zM8 23h1v1h-1zM11 23h1v1h-1zM18 23h1v1h-1zM26 23h1v1h-1zM60 23h1v1h-1zM24 24h1v1h-1zM35 24h1v1h-1zM56 24h1v1h-1zM72 24h1v1h-1zM33 25h1v1h-1zM53 25h1v1h-1zM55 25h1v1h-1zM12 26h1v1h-1zM17 26h1v1h-1zM41 26h3v1h-3zM56 26h1v1h-1zM64 26h4v1h-4zM4 27h1v1h-1zM15 27h1v1h-1zM24 27h1v1h-1zM30 27h1v1h-1zM34 27h1v1h-1zM41 27h1v1h-1zM53 27h3v1h-3zM59 27h1v1h-1zM82 27h1v1h-1zM49 28h1v1h-1zM55 28h1v1h-1zM23 29h1v1h-1zM26 29h2v1h-2zM37 29h1v1h-1zM53 29h2v1h-2zM56 29h1v1h-1zM86 29h1v1h-1zM27 30h1v1h-1zM37 30h1v1h-1zM44 31h1v1h-1zM54 31h1v1h-1zM56 31h1v1h-1zM24 32h1v1h-1zM27 32h1v1h-1zM31 32h1v1h-1zM44 32h1v1h-1zM27 33h1v1h-1zM34 33h1v1h-1zM44 33h1v1h-1zM52 33h1v1h-1zM27 34h1v1h-1zM29 34h1v1h-1zM37 34h1v1h-1zM43 34h1v1h-1zM69 34h1v1h-1zM77 34h1v1h-1zM51 35h1v1h-1zM69 35h1v1h-1zM7 36h1v1h-1zM12 36h1v1h-1zM17 36h1v1h-1zM26 36h1v1h-1zM43 36h1v1h-1zM46 36h1v1h-1zM52 36h1v1h-1zM70 36h1v1h-1zM7 37h1v1h-1zM36 37h1v1h-1zM45 37h2v1h-2zM48 37h1v1h-1zM20 38h2v1h-2zM40 38h2v1h-2zM78 38h3v1h-3zM22 39h1v1h-1zM45 39h1v1h-1zM55 39h1v1h-1zM48 40h1v1h-1zM8 41h1v1h-1zM42 41h1v1h-1zM47 41h1v1h-1zM19 42h1v1h-1zM51 42h1v1h-1zM71 42h1v1h-1zM8 43h1v1h-1zM14 43h1v1h-1zM47 43h3v1h-3zM33 44h1v1h-1zM49 44h1v1h-1zM19 45h1v1h-1zM32 45h1v1h-1zM23 46h1v1h-1zM38 46h1v1h-1zM43 46h1v1h-1zM51 46h1v1h-1zM29 47h1v1h-1zM39 47h1v1h-1zM44 47h1v1h-1zM59 47h1v1h-1zM86 47h1v1h-1zM56 48h1v1h-1zM60 48h1v1h-1zM22 49h1v1h-1zM39 49h1v1h-1zM56 49h1v1h-1zM50 50h1v1h-1zM68 50h1v1h-1zM14 51h2v1h-2zM42 51h1v1h-1zM88 51h1v1h-1zM16 52h2v1h-2zM20 52h1v1h-1zM47 52h2v1h-2zM75 52h1v1h-1zM10 53h1v1h-1zM12 53h1v1h-1zM20 53h1v1h-1zM24 53h1v1h-1zM15 54h1v1h-1zM36 54h1v1h-1zM66 54h1v1h-1zM85 54h1v1h-1zM5 55h1v1h-1zM17 55h1v1h-1zM24 55h1v1h-1zM35 55h2v1h-2zM59 55h1v1h-1zM86 55h1v1h-1zM88 55h1v1h-1zM7 56h1v1h-1zM18 56h1v1h-1zM33 56h1v1h-1zM45 56h1v1h-1zM62 56h1v1h-1zM0 57h1v1h-1zM7 57h1v1h-1zM30 57h2v1h-2zM53 57h1v1h-1zM69 57h1v1h-1zM71 57h1v1h-1zM73 57h1v1h-1zM9 58h1v1h-1zM14 58h1v1h-1zM59 58h1v1h-1zM71 58h1v1h-1zM74 58h1v1h-1zM42 59h1v1h-1zM56 59h1v1h-1zM63 59h1v1h-1zM71 59h1v1h-1zM79 59h1v1h-1zM24 60h1v1h-1zM29 60h1v1h-1zM57 60h1v1h-1zM35 61h1v1h-1zM18 62h1v1h-1zM54 62h1v1h-1zM56 63h1v1h-1zM64 63h1v1h-1zM66 63h1v1h-1zM77 63h1v1h-1zM33 64h1v1h-1zM43 64h1v1h-1zM61 64h1v1h-1zM69 64h1v1h-1zM76 64h1v1h-1zM34 65h1v1h-1zM73 66h1v1h-1zM79 66h1v1h-1zM33 67h1v1h-1zM60 67h1v1h-1zM70 67h2v1h-2zM19 68h1v1h-1zM42 68h1v1h-1zM47 68h1v1h-1zM69 68h1v1h-1zM32 69h1v1h-1zM40 69h1v1h-1zM43 69h1v1h-1zM54 69h1v1h-1zM4 70h1v1h-1zM36 70h2v1h-2zM39 70h1v1h-1z"/>
<path fill="#fff200" d="M47 1h1v1h-1zM1 2h1v1h-1zM25 2h1v1h-1zM32 2h1v1h-1zM19 3h1v1h-1zM33 4h1v1h-1zM42 4h1v1h-1zM57 4h1v1h-1zM33 5h1v1h-1zM41 5h1v1h-1zM63 5h1v1h-1zM43 6h1v1h-1zM61 7h1v1h-1zM68 7h1v1h-1zM82 7h1v1h-1zM60 9h1v1h-1zM23 10h1v1h-1zM38 10h1v1h-1zM19 12h1v1h-1zM34 12h1v1h-1zM46 12h1v1h-1zM34 13h1v1h-1zM48 13h1v1h-1zM86 13h1v1h-1zM32 15h1v1h-1zM36 15h1v1h-1zM49 15h1v1h-1zM76 15h2v1h-2zM16 16h1v1h-1zM33 16h1v1h-1zM35 16h1v1h-1zM37 16h1v1h-1zM64 16h1v1h-1zM34 17h1v1h-1zM36 17h1v1h-1zM69 17h1v1h-1zM86 17h1v1h-1zM25 18h1v1h-1zM35 18h1v1h-1zM43 18h1v1h-1zM61 18h1v1h-1zM66 18h1v1h-1zM88 18h1v1h-1zM30 19h1v1h-1zM72 19h1v1h-1zM74 19h1v1h-1zM88 19h1v1h-1zM8 20h1v1h-1zM29 20h2v1h-2zM33 20h2v1h-2zM36 20h1v1h-1zM45 20h1v1h-1zM61 20h1v1h-1zM23 21h1v1h-1zM31 21h1v1h-1zM64 21h1v1h-1zM17 22h1v1h-1zM24 22h1v1h-1zM30 22h1v1h-1zM32 22h2v1h-2zM42 22h1v1h-1zM70 22h1v1h-1zM2 23h1v1h-1zM28 23h2v1h-2zM32 23h1v1h-1zM36 23h2v1h-2zM43 23h1v1h-1zM46 23h1v1h-1zM50 23h1v1h-1zM59 23h1v1h-1zM61 23h1v1h-1zM81 23h1v1h-1zM11 24h1v1h-1zM25 24h1v1h-1zM28 24h1v1h-1zM36 24h1v1h-1zM50 24h2v1h-2zM57 24h1v1h-1zM66 24h1v1h-1zM83 24h1v1h-1zM25 25h2v1h-2zM29 25h1v1h-1zM32 25h1v1h-1zM36 25h1v1h-1zM58 25h1v1h-1zM22 26h1v1h-1zM38 26h3v1h-3zM48 26h1v1h-1zM54 26h1v1h-1zM57 26h1v1h-1zM59 26h1v1h-1zM70 26h1v1h-1zM13 27h1v1h-1zM17 27h1v1h-1zM20 27h1v1h-1zM33 27h1v1h-1zM49 27h1v1h-1zM25 28h2v1h-2zM41 28h1v1h-1zM53 28h1v1h-1zM16 29h1v1h-1zM58 29h1v1h-1zM26 30h1v1h-1zM18 31h1v1h-1zM27 31h1v1h-1zM33 31h1v1h-1zM35 31h1v1h-1zM40 31h1v1h-1zM45 31h1v1h-1zM50 31h1v1h-1zM52 31h2v1h-2zM34 32h2v1h-2zM39 32h1v1h-1zM52 32h1v1h-1zM24 34h1v1h-1zM52 34h1v1h-1zM28 35h1v1h-1zM35 35h1v1h-1zM37 35h1v1h-1zM43 35h1v1h-1zM52 35h1v1h-1zM22 37h1v1h-1zM27 37h1v1h-1zM43 37h1v1h-1zM78 37h1v1h-1zM22 38h2v1h-2zM34 38h1v1h-1zM47 38h1v1h-1zM21 39h1v1h-1zM36 39h1v1h-1zM40 39h1v1h-1zM21 40h1v1h-1zM41 40h1v1h-1zM44 40h2v1h-2zM41 41h1v1h-1zM49 42h2v1h-2zM20 43h1v1h-1zM17 44h1v1h-1zM24 44h2v1h-2zM32 44h1v1h-1zM48 44h1v1h-1zM55 44h2v1h-2zM24 45h1v1h-1zM38 45h1v1h-1zM45 45h1v1h-1zM57 45h1v1h-1zM13 46h1v1h-1zM17 46h1v1h-1zM25 46h1v1h-1zM41 46h1v1h-1zM44 46h1v1h-1zM13 47h1v1h-1zM38 47h1v1h-1zM45 47h1v1h-1zM56 47h2v1h-2zM61 47h1v1h-1zM64 47h1v1h-1zM17 48h1v1h-1zM24 48h1v1h-1zM39 48h1v1h-1zM63 48h1v1h-1zM76 48h1v1h-1zM29 49h1v1h-1zM38 49h1v1h-1zM57 49h1v1h-1zM66 49h1v1h-1zM69 49h1v1h-1zM9 50h1v1h-1zM37 50h1v1h-1zM44 50h1v1h-1zM25 51h1v1h-1zM43 51h1v1h-1zM61 51h1v1h-1zM76 51h1v1h-1zM15 52h1v1h-1zM67 52h1v1h-1zM8 53h2v1h-2zM23 53h1v1h-1zM48 53h1v1h-1zM64 53h1v1h-1zM74 53h1v1h-1zM85 53h3v1h-3zM7 54h1v1h-1zM23 54h2v1h-2zM31 54h1v1h-1zM83 54h1v1h-1zM88 54h1v1h-1zM18 55h1v1h-1zM34 55h1v1h-1zM45 55h1v1h-1zM85 55h1v1h-1zM35 56h1v1h-1zM57 56h2v1h-2zM71 56h1v1h-1zM73 56h2v1h-2zM2 57h1v1h-1zM14 57h1v1h-1zM32 57h1v1h-1zM18 58h1v1h-1zM63 58h1v1h-1zM67 58h1v1h-1zM90 58h1v1h-1zM30 59h1v1h-1zM46 59h1v1h-1zM49 59h1v1h-1zM75 59h1v1h-1zM0 60h2v1h-2zM62 60h1v1h-1zM70 60h1v1h-1zM58 61h1v1h-1zM68 61h1v1h-1zM71 61h1v1h-1zM76 61h1v1h-1zM70 62h1v1h-1zM75 62h2v1h-2zM68 64h1v1h-1zM43 66h1v1h-1zM69 66h1v1h-1zM5 67h1v1h-1zM69 67h1v1h-1zM15 68h1v1h-1zM53 69h1v1h-1zM56 69h1v1h-1zM32 70h1v1h-1zM34 70h1v1h-1zM41 70h1v1h-1zM64 70h1v1h-1z"/>
<path fill="#ffd900" d="M50 0h1v1h-1zM55 0h2v1h-2zM32 1h2v1h-2zM37 1h1v1h-1zM32 3h1v1h-1zM47 3h1v1h-1zM78 3h1v1h-1zM89 3h1v1h-1zM17 4h1v1h-1zM40 4h1v1h-1zM89 4h1v1h-1zM64 5h1v1h-1zM16 8h1v1h-1zM37 8h1v1h-1zM47 9h1v1h-1zM54 10h1v1h-1zM24 11h1v1h-1zM47 12h1v1h-1zM12 13h1v1h-1zM26 13h1v1h-1zM52 13h1v1h-1zM49 14h1v1h-1zM30 15h1v1h-1zM33 15h1v1h-1zM69 15h1v1h-1zM30 16h1v1h-1zM36 16h1v1h-1zM60 16h1v1h-1zM67 16h1v1h-1zM70 16h1v1h-1zM29 17h2v1h-2zM35 17h1v1h-1zM58 17h1v1h-1zM63 17h1v1h-1zM42 18h1v1h-1zM47 18h1v1h-1zM59 18h1v1h-1zM67 18h1v1h-1zM8 19h1v1h-1zM31 19h2v1h-2zM36 19h1v1h-1zM41 19h2v1h-2zM66 19h2v1h-2zM71 19h1v1h-1zM12 20h1v1h-1zM31 20h1v1h-1zM55 20h1v1h-1zM57 20h1v1h-1zM62 20h1v1h-1zM72 20h2v1h-2zM13 21h1v1h-1zM25 21h1v1h-1zM53 21h1v1h-1zM58 21h2v1h-2zM62 21h2v1h-2zM29 22h1v1h-1zM37 22h1v1h-1zM39 22h1v1h-1zM43 22h2v1h-2zM58 22h2v1h-2zM61 22h1v1h-1zM72 22h1v1h-1zM10 23h1v1h-1zM12 23h1v1h-1zM19 23h1v1h-1zM38 23h1v1h-1zM44 23h1v1h-1zM73 23h1v1h-1zM6 24h1v1h-1zM30 24h2v1h-2zM37 24h1v1h-1zM43 24h2v1h-2zM52 24h1v1h-1zM67 24h1v1h-1zM73 24h1v1h-1zM30 25h1v1h-1zM37 25h1v1h-1zM39 25h1v1h-1zM48 25h2v1h-2zM11 26h1v1h-1zM32 26h1v1h-1zM34 26h1v1h-1zM53 26h1v1h-1zM58 26h1v1h-1zM60 26h1v1h-1zM68 26h1v1h-1zM3 27h1v1h-1zM16 27h1v1h-1zM35 27h1v1h-1zM40 27h1v1h-1zM52 27h1v1h-1zM65 27h3v1h-3zM70 27h1v1h-1zM33 28h2v1h-2zM39 28h1v1h-1zM52 28h1v1h-1zM54 28h1v1h-1zM18 29h1v1h-1zM34 29h1v1h-1zM41 29h2v1h-2zM52 29h1v1h-1zM40 30h1v1h-1zM52 30h1v1h-1zM57 30h1v1h-1zM70 30h1v1h-1zM87 30h1v1h-1zM17 31h1v1h-1zM34 31h1v1h-1zM55 31h1v1h-1zM23 32h1v1h-1zM33 32h1v1h-1zM36 32h1v1h-1zM40 32h1v1h-1zM30 33h1v1h-1zM45 33h1v1h-1zM70 33h1v1h-1zM33 34h1v1h-1zM44 34h1v1h-1zM22 36h1v1h-1zM25 36h1v1h-1zM27 36h1v1h-1zM44 36h1v1h-1zM48 36h1v1h-1zM51 36h1v1h-1zM69 36h1v1h-1zM77 36h1v1h-1zM21 37h1v1h-1zM23 37h1v1h-1zM41 37h2v1h-2zM49 37h2v1h-2zM79 37h1v1h-1zM27 38h1v1h-1zM36 38h1v1h-1zM42 38h1v1h-1zM45 38h1v1h-1zM35 39h1v1h-1zM47 39h1v1h-1zM23 40h1v1h-1zM35 40h1v1h-1zM2 41h1v1h-1zM18 42h1v1h-1zM20 42h1v1h-1zM40 42h1v1h-1zM45 42h1v1h-1zM47 42h1v1h-1zM9 43h1v1h-1zM18 43h1v1h-1zM27 43h1v1h-1zM11 44h1v1h-1zM18 44h1v1h-1zM25 45h1v1h-1zM46 45h2v1h-2zM12 46h1v1h-1zM24 46h1v1h-1zM42 46h1v1h-1zM45 46h2v1h-2zM49 46h2v1h-2zM17 47h1v1h-1zM46 47h1v1h-1zM48 47h1v1h-1zM51 47h1v1h-1zM12 48h2v1h-2zM38 48h1v1h-1zM62 48h1v1h-1zM65 48h1v1h-1zM44 49h2v1h-2zM59 49h1v1h-1zM61 49h1v1h-1zM76 49h1v1h-1zM0 50h1v1h-1zM25 50h1v1h-1zM55 50h1v1h-1zM69 50h1v1h-1zM76 50h1v1h-1zM11 51h1v1h-1zM35 51h2v1h-2zM50 51h1v1h-1zM75 51h1v1h-1zM11 52h1v1h-1zM25 52h1v1h-1zM34 52h1v1h-1zM49 52h1v1h-1zM74 52h1v1h-1zM7 53h1v1h-1zM25 53h1v1h-1zM35 53h1v1h-1zM75 53h1v1h-1zM84 53h1v1h-1zM9 54h1v1h-1zM16 54h1v1h-1zM25 54h1v1h-1zM32 54h1v1h-1zM45 54h1v1h-1zM56 54h1v1h-1zM84 54h1v1h-1zM86 54h1v1h-1zM89 54h1v1h-1zM10 55h1v1h-1zM60 55h1v1h-1zM63 55h1v1h-1zM84 55h1v1h-1zM87 55h1v1h-1zM6 56h1v1h-1zM16 56h1v1h-1zM47 56h1v1h-1zM61 57h1v1h-1zM5 58h1v1h-1zM8 58h1v1h-1zM58 58h1v1h-1zM62 58h1v1h-1zM73 58h1v1h-1zM75 58h1v1h-1zM6 59h2v1h-2zM43 59h1v1h-1zM73 59h1v1h-1zM90 59h1v1h-1zM2 60h1v1h-1zM61 60h1v1h-1zM67 61h1v1h-1zM67 62h1v1h-1zM71 62h1v1h-1zM68 63h1v1h-1zM72 64h1v1h-1zM77 64h1v1h-1zM20 66h1v1h-1zM74 66h1v1h-1zM43 67h1v1h-1zM55 68h1v1h-1zM36 69h1v1h-1zM41 69h1v1h-1zM73 69h1v1h-1zM35 70h1v1h-1zM38 70h1v1h-1zM40 70h1v1h-1z"/>
<path fill="#ffae00" d="M46 0h1v1h-1zM57 0h1v1h-1zM52 1h1v1h-1zM14 2h1v1h-1zM24 2h1v1h-1zM47 2h1v1h-1zM49 2h1v1h-1zM13 3h1v1h-1zM45 4h2v1h-2zM62 7h1v1h-1zM42 8h1v1h-1zM73 9h1v1h-1zM17 11h1v1h-1zM41 13h2v1h-2zM37 14h1v1h-1zM66 14h1v1h-1zM68 14h1v1h-1zM13 16h1v1h-1zM69 16h1v1h-1zM31 17h1v1h-1zM37 17h1v1h-1zM36 18h1v1h-1zM56 18h1v1h-1zM60 18h1v1h-1zM44 19h1v1h-1zM60 19h2v1h-2zM69 19h1v1h-1zM13 20h1v1h-1zM32 20h1v1h-1zM35 20h1v1h-1zM37 20h2v1h-2zM56 20h1v1h-1zM68 20h2v1h-2zM4 21h1v1h-1zM12 21h1v1h-1zM33 21h1v1h-1zM35 21h2v1h-2zM38 21h1v1h-1zM40 21h1v1h-1zM54 21h1v1h-1zM57 21h1v1h-1zM31 22h1v1h-1zM35 22h1v1h-1zM53 22h1v1h-1zM62 22h1v1h-1zM16 23h2v1h-2zM30 23h1v1h-1zM52 23h1v1h-1zM57 23h1v1h-1zM71 23h1v1h-1zM18 24h1v1h-1zM29 24h1v1h-1zM49 24h1v1h-1zM10 25h1v1h-1zM15 25h1v1h-1zM18 25h1v1h-1zM65 25h1v1h-1zM36 26h1v1h-1zM55 26h1v1h-1zM39 27h1v1h-1zM51 27h1v1h-1zM58 27h1v1h-1zM50 28h2v1h-2zM67 28h1v1h-1zM12 29h1v1h-1zM57 29h1v1h-1zM59 29h1v1h-1zM22 30h1v1h-1zM25 30h1v1h-1zM35 30h1v1h-1zM41 30h1v1h-1zM53 30h1v1h-1zM55 30h1v1h-1zM36 31h1v1h-1zM32 32h1v1h-1zM45 32h1v1h-1zM77 32h1v1h-1zM32 33h1v1h-1zM38 33h1v1h-1zM51 33h1v1h-1zM35 34h1v1h-1zM51 34h1v1h-1zM25 35h1v1h-1zM42 36h1v1h-1zM47 36h1v1h-1zM24 37h1v1h-1zM46 41h1v1h-1zM48 42h1v1h-1zM55 42h1v1h-1zM19 43h1v1h-1zM39 43h2v1h-2zM45 43h1v1h-1zM51 43h1v1h-1zM53 43h1v1h-1zM57 43h1v1h-1zM20 44h1v1h-1zM26 44h1v1h-1zM41 44h1v1h-1zM45 44h1v1h-1zM50 44h1v1h-1zM16 45h1v1h-1zM30 46h1v1h-1zM37 46h1v1h-1zM54 46h1v1h-1zM50 47h1v1h-1zM58 47h1v1h-1zM49 48h1v1h-1zM61 48h1v1h-1zM23 49h1v1h-1zM34 49h1v1h-1zM58 49h1v1h-1zM45 50h2v1h-2zM48 50h1v1h-1zM57 50h2v1h-2zM24 51h1v1h-1zM49 51h1v1h-1zM27 52h1v1h-1zM38 52h2v1h-2zM68 52h1v1h-1zM4 53h1v1h-1zM17 54h1v1h-1zM46 54h2v1h-2zM16 55h1v1h-1zM2 56h1v1h-1zM72 56h1v1h-1zM11 57h1v1h-1zM15 57h1v1h-1zM28 57h1v1h-1zM33 57h1v1h-1zM72 57h1v1h-1zM75 57h1v1h-1zM6 58h1v1h-1zM15 58h1v1h-1zM69 58h1v1h-1zM72 58h1v1h-1zM65 59h1v1h-1zM74 59h1v1h-1zM73 60h1v1h-1zM74 61h2v1h-2zM74 62h1v1h-1zM65 63h1v1h-1zM70 63h1v1h-1zM75 63h1v1h-1zM73 64h2v1h-2zM33 65h1v1h-1zM74 65h1v1h-1zM72 66h1v1h-1zM4 69h1v1h-1zM52 69h1v1h-1zM55 69h1v1h-1z"/>
<path fill="#ff9500" d="M41 0h1v1h-1zM58 0h1v1h-1zM51 1h1v1h-1zM14 3h1v1h-1zM46 3h1v1h-1zM27 6h1v1h-1zM31 6h1v1h-1zM33 7h1v1h-1zM36 9h1v1h-1zM70 10h1v1h-1zM22 11h1v1h-1zM89 11h1v1h-1zM12 12h1v1h-1zM19 13h1v1h-1zM53 13h1v1h-1zM61 13h1v1h-1zM71 13h1v1h-1zM90 13h1v1h-1zM70 14h1v1h-1zM37 15h1v1h-1zM24 16h1v1h-1zM38 16h1v1h-1zM33 17h1v1h-1zM67 17h1v1h-1zM26 18h1v1h-1zM16 21h1v1h-1zM39 21h1v1h-1zM9 22h1v1h-1zM36 22h1v1h-1zM41 22h1v1h-1zM51 22h1v1h-1zM57 22h1v1h-1zM25 23h1v1h-1zM72 23h1v1h-1zM10 24h1v1h-1zM38 24h1v1h-1zM53 24h1v1h-1zM58 24h1v1h-1zM65 24h1v1h-1zM74 24h1v1h-1zM11 25h1v1h-1zM20 25h1v1h-1zM66 25h1v1h-1zM44 26h1v1h-1zM18 27h1v1h-1zM21 27h1v1h-1zM26 27h1v1h-1zM36 27h1v1h-1zM18 28h1v1h-1zM27 28h1v1h-1zM59 28h1v1h-1zM51 29h1v1h-1zM36 30h1v1h-1zM38 30h1v1h-1zM56 30h1v1h-1zM82 30h1v1h-1zM37 31h2v1h-2zM38 32h1v1h-1zM37 33h1v1h-1zM39 33h1v1h-1zM36 34h1v1h-1zM63 34h1v1h-1zM68 34h1v1h-1zM24 35h1v1h-1zM36 35h1v1h-1zM65 35h1v1h-1zM41 36h1v1h-1zM45 36h1v1h-1zM49 36h1v1h-1zM37 37h1v1h-1zM32 39h1v1h-1zM41 39h1v1h-1zM5 40h2v1h-2zM22 40h1v1h-1zM40 40h1v1h-1zM20 41h1v1h-1zM40 41h1v1h-1zM44 42h1v1h-1zM5 43h1v1h-1zM7 43h1v1h-1zM33 43h1v1h-1zM3 44h1v1h-1zM5 44h1v1h-1zM7 44h1v1h-1zM47 44h1v1h-1zM49 47h1v1h-1zM50 48h1v1h-1zM53 48h1v1h-1zM55 48h1v1h-1zM17 49h1v1h-1zM53 49h1v1h-1zM55 49h1v1h-1zM14 50h1v1h-1zM43 50h1v1h-1zM10 51h1v1h-1zM17 51h1v1h-1zM28 51h1v1h-1zM55 51h1v1h-1zM9 52h1v1h-1zM33 52h1v1h-1zM37 52h1v1h-1zM32 53h1v1h-1zM4 54h1v1h-1zM35 54h1v1h-1zM11 55h1v1h-1zM30 55h1v1h-1zM44 55h1v1h-1zM46 55h1v1h-1zM11 56h1v1h-1zM6 57h1v1h-1zM16 57h1v1h-1zM70 57h1v1h-1zM74 57h1v1h-1zM0 58h1v1h-1zM7 58h1v1h-1zM11 58h1v1h-1zM33 58h1v1h-1zM54 58h2v1h-2zM64 59h1v1h-1zM67 60h1v1h-1zM71 60h2v1h-2zM74 60h2v1h-2zM72 61h2v1h-2zM33 62h1v1h-1zM68 62h1v1h-1zM72 62h1v1h-1zM21 63h1v1h-1zM69 63h1v1h-1zM76 63h1v1h-1zM75 64h1v1h-1zM73 65h1v1h-1zM65 66h1v1h-1zM42 67h1v1h-1zM79 67h1v1h-1zM4 68h2v1h-2zM43 68h1v1h-1zM5 69h1v1h-1zM42 70h1v1h-1zM61 70h1v1h-1z"/>
<path fill="#ff7c00" d="M38 0h1v1h-1zM35 1h1v1h-1zM13 2h1v1h-1zM46 2h1v1h-1zM53 2h1v1h-1zM15 4h1v1h-1zM27 5h1v1h-1zM61 5h1v1h-1zM28 6h1v1h-1zM65 6h1v1h-1zM78 6h1v1h-1zM42 7h1v1h-1zM30 8h1v1h-1zM33 8h1v1h-1zM90 12h1v1h-1zM46 13h1v1h-1zM62 13h1v1h-1zM70 13h1v1h-1zM41 14h1v1h-1zM48 14h1v1h-1zM25 15h1v1h-1zM11 16h1v1h-1zM31 16h1v1h-1zM68 16h1v1h-1zM87 16h1v1h-1zM60 17h1v1h-1zM22 18h1v1h-1zM46 18h1v1h-1zM39 20h2v1h-2zM8 21h1v1h-1zM37 21h1v1h-1zM10 22h2v1h-2zM34 22h1v1h-1zM40 22h1v1h-1zM52 22h1v1h-1zM31 23h1v1h-1zM34 23h1v1h-1zM39 23h1v1h-1zM51 23h1v1h-1zM53 23h1v1h-1zM56 23h1v1h-1zM58 23h1v1h-1zM63 23h1v1h-1zM26 24h1v1h-1zM21 25h1v1h-1zM38 25h1v1h-1zM54 25h1v1h-1zM82 25h1v1h-1zM13 26h1v1h-1zM18 26h1v1h-1zM72 26h1v1h-1zM25 27h1v1h-1zM37 27h2v1h-2zM50 27h1v1h-1zM37 28h1v1h-1zM40 28h1v1h-1zM63 28h1v1h-1zM38 29h3v1h-3zM49 29h2v1h-2zM55 29h1v1h-1zM39 30h1v1h-1zM45 30h2v1h-2zM50 30h2v1h-2zM54 30h1v1h-1zM59 30h1v1h-1zM32 31h1v1h-1zM39 31h1v1h-1zM37 32h1v1h-1zM53 32h1v1h-1zM4 33h1v1h-1zM33 33h1v1h-1zM35 33h2v1h-2zM73 33h1v1h-1zM22 34h1v1h-1zM23 36h1v1h-1zM38 36h1v1h-1zM68 37h1v1h-1zM48 38h1v1h-1zM77 38h1v1h-1zM23 39h1v1h-1zM48 39h1v1h-1zM36 40h1v1h-1zM42 40h1v1h-1zM46 40h2v1h-2zM19 41h1v1h-1zM45 41h1v1h-1zM2 42h1v1h-1zM6 43h1v1h-1zM32 43h1v1h-1zM46 43h1v1h-1zM52 43h1v1h-1zM46 44h1v1h-1zM23 45h1v1h-1zM29 46h1v1h-1zM60 46h1v1h-1zM12 47h1v1h-1zM30 47h1v1h-1zM53 47h1v1h-1zM55 47h1v1h-1zM60 47h1v1h-1zM23 48h1v1h-1zM30 48h1v1h-1zM35 48h1v1h-1zM44 48h1v1h-1zM69 48h1v1h-1zM5 49h1v1h-1zM9 49h1v1h-1zM10 50h1v1h-1zM15 50h2v1h-2zM16 51h1v1h-1zM48 51h1v1h-1zM8 52h1v1h-1zM32 52h1v1h-1zM18 53h1v1h-1zM36 53h1v1h-1zM57 54h1v1h-1zM7 55h1v1h-1zM55 55h3v1h-3zM34 56h1v1h-1zM4 57h2v1h-2zM13 57h1v1h-1zM64 58h1v1h-1zM1 59h1v1h-1zM51 59h1v1h-1zM62 59h1v1h-1zM73 62h1v1h-1zM34 63h1v1h-1zM72 63h3v1h-3zM64 66h1v1h-1zM70 66h1v1h-1zM53 68h1v1h-1zM33 69h1v1h-1zM42 69h1v1h-1zM9 70h1v1h-1z"/>
<path fill="#ff5c00" d="M31 8h1v1h-1zM63 8h1v1h-1zM78 10h1v1h-1zM20 12h1v1h-1zM72 12h1v1h-1zM20 14h1v1h-1zM24 15h1v1h-1zM82 24h1v1h-1zM83 25h1v1h-1zM40 33h1v1h-1zM39 35h1v1h-1zM62 35h1v1h-1zM37 38h1v1h-1zM39 40h1v1h-1zM39 42h1v1h-1zM34 43h1v1h-1zM12 57h1v1h-1z"/>
<path fill="#ff4300" d="M14 1h1v1h-1zM84 8h1v1h-1zM79 10h1v1h-1zM73 11h1v1h-1zM71 12h1v1h-1zM55 13h1v1h-1zM68 13h1v1h-1zM62 15h1v1h-1zM70 21h1v1h-1zM42 30h1v1h-1zM43 33h1v1h-1zM40 37h1v1h-1zM51 60h1v1h-1z"/>
<path fill="#ff2a00" d="M21 12h4v1h-4zM87 14h1v1h-1zM52 21h1v1h-1zM82 23h1v1h-1zM83 26h1v1h-1zM46 28h1v1h-1zM41 31h1v1h-1zM39 41h1v1h-1zM32 46h1v1h-1zM32 50h1v1h-1zM29 56h1v1h-1zM83 66h2v1h-2zM60 69h1v1h-1z"/>
<path fill="#bd0000" d="M13 0h1v1h-1zM67 7h1v1h-1zM80 10h1v1h-1zM84 11h1v1h-1zM38 44h1v1h-1zM22 61h1v1h-1z"/>
<path fill="#a40000" d="M62 8h1v1h-1zM65 14h1v1h-1zM54 15h1v1h-1zM59 16h1v1h-1z"/>
<path fill="#8a0000" d="M59 9h1v1h-1zM70 12h1v1h-1zM86 12h1v1h-1zM53 20h1v1h-1zM45 29h1v1h-1zM41 35h1v1h-1z"/>
</g></g>
<rect x="272.3" y="21.6" width="453.7" height="347.8" fill="none" stroke="#222" stroke-opacity=".55" stroke-width="1"/>
<path d="M319.66 369.4v-4M319.66 21.6v4M369.52 369.4v-4M369.52 21.6v4M419.38 369.4v-4M419.38 21.6v4M469.24 369.4v-4M469.24 21.6v4M519.09 369.4v-4M519.09 21.6v4M568.95 369.4v-4M568.95 21.6v4M618.81 369.4v-4M618.81 21.6v4M668.66 369.4v-4M668.66 21.6v4M718.52 369.4v-4M718.52 21.6v4M272.3 68.14h4M726 68.14h-4M272.3 117.12h4M726 117.12h-4M272.3 166.11h4M726 166.11h-4M272.3 215.09h4M726 215.09h-4M272.3 264.08h4M726 264.08h-4M272.3 313.07h4M726 313.07h-4M272.3 362.05h4M726 362.05h-4" stroke="#111" stroke-opacity=".7" stroke-width=".8" fill="none"/>
<g font-size="11.3" fill="#111">
<text x="319.66" y="383.5" text-anchor="middle">10</text>
<text x="369.52" y="383.5" text-anchor="middle">20</text>
<text x="419.38" y="383.5" text-anchor="middle">30</text>
<text x="469.24" y="383.5" text-anchor="middle">40</text>
<text x="519.09" y="383.5" text-anchor="middle">50</text>
<text x="568.95" y="383.5" text-anchor="middle">60</text>
<text x="618.81" y="383.5" text-anchor="middle">70</text>
<text x="668.66" y="383.5" text-anchor="middle">80</text>
<text x="718.52" y="383.5" text-anchor="middle">90</text>
<text x="268.5" y="72.14" text-anchor="end">10</text>
<text x="268.5" y="121.12" text-anchor="end">20</text>
<text x="268.5" y="170.11" text-anchor="end">30</text>
<text x="268.5" y="219.09" text-anchor="end">40</text>
<text x="268.5" y="268.08" text-anchor="end">50</text>
<text x="268.5" y="317.07" text-anchor="end">60</text>
<text x="268.5" y="366.05" text-anchor="end">70</text>
</g>
<text x="503.8" y="408.2" font-size="15.2" text-anchor="middle" fill="#111">West-East Pixel Index</text>
<text transform="translate(241.7 202.3) rotate(-90)" font-size="15.2" text-anchor="middle" fill="#111">North-South Pixel Index</text>
<text x="504.6" y="12.7" font-size="14.3" text-anchor="middle" fill="#111">(a)</text>
<g fill="none">
<circle cx="241.6" cy="25.3" r="11.2" stroke-width="1.15" stroke="#2a2a2a"/>
<path d="M241.6 11.6L242.6 24.3L255.8 25.3L242.6 26.3L241.6 40.4L240.6 26.3L226.8 25.3L240.6 24.3Z" fill="#111" stroke="#111" stroke-width=".55" stroke-linejoin="miter"/>
<path d="M237.0 20.7l2.6 2.6M246.2 20.7l-2.6 2.6M237.0 29.9l2.6-2.6M246.2 29.9l-2.6-2.6" stroke-width=".7" stroke="#555"/>
</g>
<text x="241.5" y="9.5" font-size="9.6" font-weight="bold" text-anchor="middle" fill="#1a1a1a" style="font-family:'Liberation Serif','Times New Roman',serif">N</text>
<rect x="778.4" y="234.7" width="8.1" height="134.3" fill="url(#jet)" stroke="#444" stroke-opacity=".6" stroke-width=".6"/>
<g font-size="11.3" fill="#111">
<text x="789.5" y="373">0</text>
<text x="789.5" y="344.2">20</text>
<text x="789.5" y="315.4">40</text>
<text x="789.5" y="286.6">60</text>
<text x="789.5" y="257.8">80</text>
</g>
<path d="M778.4 340.2h2M786.5 340.2h-2M778.4 311.4h2M786.5 311.4h-2M778.4 282.6h2M786.5 282.6h-2M778.4 253.8h2M786.5 253.8h-2" stroke="#222" stroke-width=".7" fill="none"/>
<text transform="translate(766.3 304.6) rotate(-90)" font-size="14.13" text-anchor="middle" fill="#111">Yearly Bare Land Percentage</text>
<rect x="46.05" y="435.8" width="451.95" height="371.9" fill="none" stroke="#5c5c5c" stroke-width="1.2"/>
<path d="M46.05 807.7v-4.8M46.05 435.8v4.8M91.25 807.7v-4.8M91.25 435.8v4.8M136.44 807.7v-4.8M136.44 435.8v4.8M181.63 807.7v-4.8M181.63 435.8v4.8M226.83 807.7v-4.8M226.83 435.8v4.8M272.02 807.7v-4.8M272.02 435.8v4.8M317.22 807.7v-4.8M317.22 435.8v4.8M362.42 807.7v-4.8M362.42 435.8v4.8M407.61 807.7v-4.8M407.61 435.8v4.8M452.81 807.7v-4.8M452.81 435.8v4.8M498 807.7v-4.8M498 435.8v4.8M46.05 807.7h4.8M498 807.7h-4.8M46.05 761.21h4.8M498 761.21h-4.8M46.05 714.73h4.8M498 714.73h-4.8M46.05 668.24h4.8M498 668.24h-4.8M46.05 621.75h4.8M498 621.75h-4.8M46.05 575.26h4.8M498 575.26h-4.8M46.05 528.78h4.8M498 528.78h-4.8M46.05 482.29h4.8M498 482.29h-4.8M46.05 435.8h4.8M498 435.8h-4.8" stroke="#5c5c5c" stroke-width=".9" fill="none"/>
<g font-size="10.3" fill="#111">
<text x="46.05" y="821.4" text-anchor="middle">0</text>
<text x="91.25" y="821.4" text-anchor="middle">10</text>
<text x="136.44" y="821.4" text-anchor="middle">20</text>
<text x="181.63" y="821.4" text-anchor="middle">30</text>
<text x="226.83" y="821.4" text-anchor="middle">40</text>
<text x="272.02" y="821.4" text-anchor="middle">50</text>
<text x="317.22" y="821.4" text-anchor="middle">60</text>
<text x="362.42" y="821.4" text-anchor="middle">70</text>
<text x="407.61" y="821.4" text-anchor="middle">80</text>
<text x="452.81" y="821.4" text-anchor="middle">90</text>
<text x="498" y="821.4" text-anchor="middle">100</text>
<text x="42.95" y="812" text-anchor="end">0</text>
<text x="42.95" y="765.51" text-anchor="end">0.5</text>
<text x="42.95" y="719.02" text-anchor="end">1</text>
<text x="42.95" y="672.54" text-anchor="end">1.5</text>
<text x="42.95" y="626.05" text-anchor="end">2</text>
<text x="42.95" y="579.56" text-anchor="end">2.5</text>
<text x="42.95" y="533.08" text-anchor="end">3</text>
<text x="42.95" y="486.59" text-anchor="end">3.5</text>
<text x="42.95" y="440.1" text-anchor="end">4</text>
</g>
<path d="M91.25 714.73L95.76 691.67L100.28 688.32L104.8 691.85L109.32 680.23L113.84 706.54L118.36 666.01L122.88 689.06L127.4 687.86L131.92 678.56L136.44 679.3L140.96 676.88L145.48 675.68L150 626.96L154.52 674.37L159.04 631.7L163.56 670.38L168.08 679.49L172.6 669.26L177.12 622.12L181.63 659.68L186.15 651.5L190.67 648.43L195.19 635.42L199.71 596.93L204.23 605.57L208.75 653.83L213.27 647.78L217.79 607.43L222.31 630.49L226.83 616.73L231.35 630.3L235.87 634.21L240.39 603.43L244.91 615.61L249.43 504.32L253.95 567.82L258.47 625.75L262.99 606.87L267.51 596.83L272.02 596.55L276.54 617.75L281.06 574.05L285.58 567.82L290.1 619.89L294.62 596.18L299.14 561.6L303.66 584.1L308.18 610.13L312.7 601.3L317.22 605.39L321.74 613.38L326.26 578.52L330.78 587.63L335.3 592.09L339.82 592.37L344.34 598.32L348.86 592.09L353.38 582.89L357.9 714.73L362.42 610.96L366.93 684.04L371.45 691.67M380.49 574.98L385.01 714.73L389.53 668.61L394.05 621.94L398.57 714.73L403.09 714.73L407.61 714.73L412.13 714.73L416.65 574.98M430.21 621.75L434.73 714.73M452.81 684.04L457.32 684.04L461.84 714.73" stroke="#a9c2b7" stroke-width=".9" stroke-dasharray="3.2 1.8" fill="none"/>
<path d="M91.09 708.12C91.37 707.19 91.99 704.45 92.73 702.5C93.48 700.55 94.3 698.2 95.55 696.41C96.8 694.61 98.71 692.85 100.23 691.72C101.76 690.58 103.2 690.23 104.69 689.61C106.17 688.98 107.66 688.48 109.14 687.97C110.62 687.46 112.07 687.03 113.59 686.56C115.12 686.09 116.8 685.62 118.28 685.16C119.77 684.69 121.01 684.26 122.5 683.75C123.98 683.24 125.66 682.81 127.19 682.11C128.71 681.41 130.12 680.62 131.64 679.53C133.16 678.44 134.8 677.19 136.33 675.55C137.85 673.91 139.3 671.68 140.78 669.69C142.26 667.69 143.75 665.31 145.23 663.59C146.72 661.87 148.2 660.39 149.69 659.37C151.17 658.36 152.62 657.66 154.14 657.5C155.66 657.34 157.3 658.01 158.83 658.44C160.35 658.87 161.8 659.8 163.28 660.08C164.76 660.35 166.21 660.55 167.73 660.08C169.26 659.61 170.9 658.44 172.42 657.26C173.94 656.09 175.39 654.53 176.87 653.05C178.36 651.56 179.84 650 181.33 648.36C182.81 646.72 184.26 645.12 185.78 643.2C187.3 641.29 188.94 639.02 190.47 636.87C191.99 634.73 193.4 632.03 194.92 630.31C196.44 628.59 198.08 627.23 199.61 626.56C201.13 625.9 202.58 626.17 204.06 626.33C205.55 626.48 207.03 627.19 208.51 627.5C210 627.81 211.48 628.24 212.97 628.2C214.45 628.16 215.9 627.77 217.42 627.27C218.94 626.76 220.62 625.9 222.11 625.16C223.59 624.41 224.84 623.91 226.33 622.81C227.81 621.72 229.49 620.66 231.01 618.59C232.54 616.52 233.98 613.59 235.47 610.39C236.95 607.19 238.38 602.8 239.92 599.37C241.46 595.95 243.18 592.49 244.72 589.82C246.26 587.14 247.97 584.5 249.15 583.32C250.33 582.14 251.07 582.44 251.81 582.73C252.55 583.03 252.5 583.42 253.58 585.09C254.66 586.77 256.78 590.7 258.3 592.77C259.83 594.83 261.25 596.51 262.73 597.49C264.21 598.47 265.68 598.57 267.16 598.67C268.63 598.77 270.11 598.67 271.59 598.08C273.06 597.49 274.49 596.06 276.01 595.13C277.54 594.19 279.21 593.16 280.74 592.47C282.26 591.78 283.69 591.39 285.17 591C286.64 590.6 288.07 590.31 289.59 590.11C291.12 589.91 292.79 589.72 294.32 589.82C295.84 589.91 297.27 590.06 298.75 590.7C300.22 591.34 301.65 592.52 303.17 593.65C304.7 594.78 306.37 596.51 307.9 597.49C309.42 598.47 310.85 599.31 312.32 599.56C313.8 599.8 315.28 599.51 316.75 598.97C318.23 598.43 319.66 597.2 321.18 596.31C322.71 595.42 324.38 594.34 325.9 593.65C327.43 592.96 328.86 592.47 330.33 592.18C331.81 591.88 333.23 591.64 334.76 591.88C336.29 592.13 337.96 592.52 339.48 593.65C341.01 594.78 342.44 595.87 343.91 598.67C345.39 601.48 346.86 605.9 348.34 610.48C349.82 615.06 351.24 620.71 352.77 626.13C354.29 631.54 355.97 638.28 357.49 642.95C359.02 647.63 360.44 651.51 361.92 654.17C363.39 656.83 364.82 658.2 366.35 658.89C367.87 659.58 369.5 658.7 371.07 658.3C372.64 657.91 374.27 656.88 375.79 656.53C377.32 656.19 378.79 655.4 380.22 656.24C381.65 657.07 382.93 659.04 384.35 661.55C385.78 664.06 387.26 668.09 388.78 671.29C390.31 674.49 391.98 678.03 393.51 680.74C395.03 683.44 396.46 685.9 397.93 687.53C399.41 689.15 401.13 690.23 402.36 690.48C403.59 690.73 404.53 689.89 405.31 689C406.1 688.12 406.05 689 407.08 685.17C408.12 681.33 409.99 671.49 411.51 665.98C413.04 660.47 414.71 655.3 416.24 652.1C417.76 648.91 419.53 647.68 420.66 646.79C421.8 645.9 422.29 646.54 423.03 646.79C423.76 647.04 424.01 647.04 425.09 648.27C426.17 649.5 428.04 652.45 429.52 654.17C431 655.89 432.47 657.61 433.95 658.6C435.42 659.58 436.85 659.43 438.38 660.07C439.9 660.71 441.57 661.21 443.1 662.44C444.62 663.67 446 664.99 447.53 667.45C449.05 669.91 450.73 673.01 452.25 677.2C453.78 681.38 455.15 687.04 456.68 692.55C458.2 698.06 460.62 707.31 461.4 710.26" stroke="#f03a3a" stroke-width="1.4" fill="none" stroke-linejoin="round"/>
<g fill="#fff" fill-opacity=".7" stroke="#2a8f2e" stroke-width="1.75">
<circle cx="91.25" cy="714.73" r="2.15"/>
<circle cx="95.76" cy="691.67" r="2.15"/>
<circle cx="100.28" cy="688.32" r="2.15"/>
<circle cx="104.8" cy="691.85" r="2.15"/>
<circle cx="109.32" cy="680.23" r="2.15"/>
<circle cx="113.84" cy="706.54" r="2.15"/>
<circle cx="118.36" cy="666.01" r="2.15"/>
<circle cx="122.88" cy="689.06" r="2.15"/>
<circle cx="127.4" cy="687.86" r="2.15"/>
<circle cx="131.92" cy="678.56" r="2.15"/>
<circle cx="136.44" cy="679.3" r="2.15"/>
<circle cx="140.96" cy="676.88" r="2.15"/>
<circle cx="145.48" cy="675.68" r="2.15"/>
<circle cx="150" cy="626.96" r="2.15"/>
<circle cx="154.52" cy="674.37" r="2.15"/>
<circle cx="159.04" cy="631.7" r="2.15"/>
<circle cx="163.56" cy="670.38" r="2.15"/>
<circle cx="168.08" cy="679.49" r="2.15"/>
<circle cx="172.6" cy="669.26" r="2.15"/>
<circle cx="177.12" cy="622.12" r="2.15"/>
<circle cx="181.63" cy="659.68" r="2.15"/>
<circle cx="186.15" cy="651.5" r="2.15"/>
<circle cx="190.67" cy="648.43" r="2.15"/>
<circle cx="195.19" cy="635.42" r="2.15"/>
<circle cx="199.71" cy="596.93" r="2.15"/>
<circle cx="204.23" cy="605.57" r="2.15"/>
<circle cx="208.75" cy="653.83" r="2.15"/>
<circle cx="213.27" cy="647.78" r="2.15"/>
<circle cx="217.79" cy="607.43" r="2.15"/>
<circle cx="222.31" cy="630.49" r="2.15"/>
<circle cx="226.83" cy="616.73" r="2.15"/>
<circle cx="231.35" cy="630.3" r="2.15"/>
<circle cx="235.87" cy="634.21" r="2.15"/>
<circle cx="240.39" cy="603.43" r="2.15"/>
<circle cx="244.91" cy="615.61" r="2.15"/>
<circle cx="249.43" cy="504.32" r="2.15"/>
<circle cx="253.95" cy="567.82" r="2.15"/>
<circle cx="258.47" cy="625.75" r="2.15"/>
<circle cx="262.99" cy="606.87" r="2.15"/>
<circle cx="267.51" cy="596.83" r="2.15"/>
<circle cx="272.02" cy="596.55" r="2.15"/>
<circle cx="276.54" cy="617.75" r="2.15"/>
<circle cx="281.06" cy="574.05" r="2.15"/>
<circle cx="285.58" cy="567.82" r="2.15"/>
<circle cx="290.1" cy="619.89" r="2.15"/>
<circle cx="294.62" cy="596.18" r="2.15"/>
<circle cx="299.14" cy="561.6" r="2.15"/>
<circle cx="303.66" cy="584.1" r="2.15"/>
<circle cx="308.18" cy="610.13" r="2.15"/>
<circle cx="312.7" cy="601.3" r="2.15"/>
<circle cx="317.22" cy="605.39" r="2.15"/>
<circle cx="321.74" cy="613.38" r="2.15"/>
<circle cx="326.26" cy="578.52" r="2.15"/>
<circle cx="330.78" cy="587.63" r="2.15"/>
<circle cx="335.3" cy="592.09" r="2.15"/>
<circle cx="339.82" cy="592.37" r="2.15"/>
<circle cx="344.34" cy="598.32" r="2.15"/>
<circle cx="348.86" cy="592.09" r="2.15"/>
<circle cx="353.38" cy="582.89" r="2.15"/>
<circle cx="357.9" cy="714.73" r="2.15"/>
<circle cx="362.42" cy="610.96" r="2.15"/>
<circle cx="366.93" cy="684.04" r="2.15"/>
<circle cx="371.45" cy="691.67" r="2.15"/>
<circle cx="380.49" cy="574.98" r="2.15"/>
<circle cx="385.01" cy="714.73" r="2.15"/>
<circle cx="389.53" cy="668.61" r="2.15"/>
<circle cx="394.05" cy="621.94" r="2.15"/>
<circle cx="398.57" cy="714.73" r="2.15"/>
<circle cx="403.09" cy="714.73" r="2.15"/>
<circle cx="407.61" cy="714.73" r="2.15"/>
<circle cx="412.13" cy="714.73" r="2.15"/>
<circle cx="416.65" cy="574.98" r="2.15"/>
<circle cx="430.21" cy="621.75" r="2.15"/>
<circle cx="434.73" cy="714.73" r="2.15"/>
<circle cx="443.77" cy="621.75" r="2.15"/>
<circle cx="452.81" cy="684.04" r="2.15"/>
<circle cx="457.32" cy="684.04" r="2.15"/>
<circle cx="461.84" cy="714.73" r="2.15"/>
</g>
<text x="272" y="426.7" font-size="14.3" text-anchor="middle" fill="#111">(b)</text>
<text x="271.8" y="838" font-size="14.6" text-anchor="middle" fill="#111">Bare Land Percentage</text>
<text transform="translate(18.3 622.1) rotate(-90)" font-size="14.6" text-anchor="middle" fill="#111">Average Frequency of Daily Hotspot</text>
<path d="M58.3 755H92" stroke="#a9c2b7" stroke-width=".9" stroke-dasharray="3.2 1.8" fill="none"/>
<circle cx="75.5" cy="755" r="2.15" fill="#fff" fill-opacity=".7" stroke="#2a8f2e" stroke-width="1.75"/>
<path d="M58.3 780H92" stroke="#f03a3a" stroke-width="1.4" fill="none" stroke-linejoin="round"/>
<g font-size="13.5" fill="#111"><text x="96.4" y="752.2">Bare Land Percentage-</text><text x="96.4" y="767.2">Hotspot Frequency Association</text><text x="96.4" y="784.8">Kernel Regression</text></g>
<rect x="562.6" y="435.9" width="454" height="374.5" fill="none" stroke="#858585" stroke-width="1.2"/>
<path d="M562.6 810.4v-4.8M562.6 435.9v4.8M608 810.4v-4.8M608 435.9v4.8M653.4 810.4v-4.8M653.4 435.9v4.8M698.8 810.4v-4.8M698.8 435.9v4.8M744.2 810.4v-4.8M744.2 435.9v4.8M789.6 810.4v-4.8M789.6 435.9v4.8M835 810.4v-4.8M835 435.9v4.8M880.4 810.4v-4.8M880.4 435.9v4.8M925.8 810.4v-4.8M925.8 435.9v4.8M971.2 810.4v-4.8M971.2 435.9v4.8M1016.6 810.4v-4.8M1016.6 435.9v4.8M562.6 810.4h4.8M1016.6 810.4h-4.8M562.6 685.57h4.8M1016.6 685.57h-4.8M562.6 560.73h4.8M1016.6 560.73h-4.8" stroke="#858585" stroke-width=".9" fill="none"/>
<g font-size="10.3" fill="#111">
<text x="562.6" y="824.1" text-anchor="middle">0</text>
<text x="608" y="824.1" text-anchor="middle">0.2</text>
<text x="653.4" y="824.1" text-anchor="middle">0.4</text>
<text x="698.8" y="824.1" text-anchor="middle">0.6</text>
<text x="744.2" y="824.1" text-anchor="middle">0.8</text>
<text x="789.6" y="824.1" text-anchor="middle">1</text>
<text x="835" y="824.1" text-anchor="middle">1.2</text>
<text x="880.4" y="824.1" text-anchor="middle">1.4</text>
<text x="925.8" y="824.1" text-anchor="middle">1.6</text>
<text x="971.2" y="824.1" text-anchor="middle">1.8</text>
<text x="1016.6" y="824.1" text-anchor="middle">2</text>
<text x="559.5" y="814.7" text-anchor="end">0.15</text>
<text x="559.5" y="689.87" text-anchor="end">0.2</text>
<text x="559.5" y="565.03" text-anchor="end">0.25</text>
</g>
<path d="M589.84 609.67L598.92 592.69L608 663.1L617.08 693.06L626.16 671.09L635.24 635.63L644.32 601.43L653.4 644.37L662.48 665.34L671.56 649.61L680.64 640.63L689.72 626.89L698.8 653.61L707.88 689.81L716.96 660.85L726.04 632.14L735.12 644.87L744.2 687.31L753.28 540.51L762.36 585.2L771.44 637.13L780.52 524.78L789.6 608.17L807.76 461.12L816.84 604.42L825.92 584.45L835 616.66L844.08 601.68L853.16 692.81L871.32 648.62L880.4 637.13L889.48 644.37L907.64 691.81L925.8 633.64L934.88 686.57L953.04 661.1L971.2 702.29L989.36 668.09L1007.52 664.84" stroke="#a9c2b7" stroke-width=".9" stroke-dasharray="3.2 1.8" fill="none"/>
<path d="M589.75 600.33C590.3 601.43 591.57 602.81 593.06 606.94C594.55 611.07 596.97 619.06 598.68 625.12C600.39 631.18 601.76 638.35 603.31 643.31C604.85 648.26 606.34 651.74 607.93 654.88C609.53 658.02 611.4 660.5 612.89 662.15C614.38 663.8 615.76 664.3 616.86 664.79C617.96 665.29 618.73 665.23 619.5 665.12C620.28 665.01 620.39 665.18 621.49 664.13C622.59 663.09 624.57 661.21 626.12 658.84C627.66 656.47 629.26 652.78 630.74 649.92C632.23 647.05 633.55 643.97 635.04 641.65C636.53 639.34 638.13 637.3 639.67 636.03C641.21 634.77 642.81 634.1 644.3 634.05C645.79 633.99 647.11 634.71 648.6 635.7C650.08 636.69 651.68 638.57 653.22 640C654.77 641.43 656.31 643.09 657.85 644.3C659.39 645.51 660.94 646.61 662.48 647.27C664.02 647.93 665.62 648.26 667.11 648.26C668.6 648.26 669.92 647.82 671.4 647.27C672.89 646.72 674.49 645.56 676.03 644.96C677.58 644.35 679.12 643.91 680.66 643.64C682.2 643.36 683.8 642.98 685.29 643.31C686.78 643.64 688.1 644.35 689.59 645.62C691.07 646.89 692.67 649.09 694.21 650.91C695.76 652.73 697.3 654.88 698.84 656.53C700.39 658.18 701.98 659.83 703.47 660.83C704.96 661.82 706.28 662.31 707.77 662.48C709.26 662.64 710.85 662.37 712.4 661.82C713.94 661.27 715.48 660.33 717.02 659.17C718.57 658.02 720.11 656.25 721.65 654.88C723.2 653.5 724.74 652.12 726.28 650.91C727.82 649.7 729.42 648.71 730.91 647.6C732.4 646.5 733.72 646.12 735.21 644.3C736.69 642.48 738.29 639.89 739.83 636.69C741.38 633.5 742.92 629.26 744.46 625.12C746.01 620.99 747.6 615.92 749.09 611.9C750.58 607.88 751.9 603.97 753.39 600.99C754.88 598.02 756.47 595.81 758.02 594.05C759.56 592.29 761.1 591.4 762.64 590.41C764.19 589.42 765.79 588.93 767.27 588.1C768.76 587.27 770.08 586.56 771.57 585.45C773.06 584.35 774.66 583.03 776.2 581.49C777.74 579.94 779.28 578.29 780.83 576.2C782.37 574.1 783.91 571.52 785.45 568.93C787 566.34 788.54 563.42 790.08 560.66C791.63 557.91 793.09 555.26 794.71 552.4C796.34 549.53 798.32 545.73 799.83 543.47C801.35 541.21 802.42 539.78 803.8 538.84C805.18 537.91 807 537.52 808.1 537.85C809.2 538.18 809.59 539.23 810.41 540.83C811.24 542.42 811.96 543.86 813.06 547.44C814.16 551.02 815.59 557.08 817.02 562.31C818.46 567.55 820.11 573.99 821.65 578.84C823.2 583.69 824.79 587.27 826.28 591.4C827.77 595.54 829.09 599.78 830.58 603.64C832.07 607.49 833.66 610.69 835.21 614.55C836.75 618.4 838.29 622.7 839.83 626.78C841.38 630.85 842.98 635.43 844.46 639.01C845.95 642.59 847.27 645.9 848.76 648.26C850.25 650.63 851.85 652.07 853.39 653.22C854.93 654.38 856.47 654.93 858.02 655.21C859.56 655.48 861.16 655.21 862.64 654.88C864.13 654.55 865.45 654.05 866.94 653.22C868.43 652.4 870.08 651.02 871.57 649.92C873.06 648.82 874.38 647.44 875.87 646.61C877.36 645.79 878.95 644.79 880.5 644.96C882.04 645.12 883.58 646.23 885.12 647.6C886.67 648.98 888.21 651.02 889.75 653.22C891.29 655.43 892.84 658.46 894.38 660.83C895.92 663.2 897.52 665.73 899.01 667.44C900.5 669.15 901.82 670.25 903.31 671.07C904.79 671.9 906.45 672.4 907.93 672.4C909.42 672.4 910.74 671.85 912.23 671.07C913.72 670.3 915.32 668.98 916.86 667.77C918.4 666.56 919.94 664.85 921.49 663.8C923.03 662.75 924.63 661.6 926.12 661.49C927.6 661.38 928.93 662.31 930.41 663.14C931.9 663.97 933.5 665.56 935.04 666.45C936.58 667.33 938.13 667.93 939.67 668.43C941.21 668.93 942.75 669.09 944.3 669.42C945.84 669.75 947.38 669.92 948.93 670.41C950.47 670.91 952.07 671.4 953.55 672.4C955.04 673.39 956.36 674.77 957.85 676.36C959.34 677.96 960.94 680.22 962.48 681.98C964.02 683.75 965.62 685.79 967.11 686.94C968.6 688.1 969.92 688.76 971.4 688.93C972.89 689.09 974.49 688.76 976.03 687.93C977.58 687.11 979.17 685.51 980.66 683.97C982.15 682.42 983.47 680.5 984.96 678.68C986.45 676.86 988.04 674.6 989.59 673.06C991.13 671.52 992.67 670.36 994.21 669.42C995.76 668.48 997.3 667.99 998.84 667.44C1000.39 666.89 1001.93 666.56 1003.47 666.12C1005.01 665.67 1007.33 665.01 1008.1 664.79" stroke="#f03a3a" stroke-width="1.4" fill="none" stroke-linejoin="round"/>
<g fill="#fff" fill-opacity=".7" stroke="#2a8f2e" stroke-width="1.75">
<circle cx="589.84" cy="609.67" r="2.15"/>
<circle cx="598.92" cy="592.69" r="2.15"/>
<circle cx="608" cy="663.1" r="2.15"/>
<circle cx="617.08" cy="693.06" r="2.15"/>
<circle cx="626.16" cy="671.09" r="2.15"/>
<circle cx="635.24" cy="635.63" r="2.15"/>
<circle cx="644.32" cy="601.43" r="2.15"/>
<circle cx="653.4" cy="644.37" r="2.15"/>
<circle cx="662.48" cy="665.34" r="2.15"/>
<circle cx="671.56" cy="649.61" r="2.15"/>
<circle cx="680.64" cy="640.63" r="2.15"/>
<circle cx="689.72" cy="626.89" r="2.15"/>
<circle cx="698.8" cy="653.61" r="2.15"/>
<circle cx="707.88" cy="689.81" r="2.15"/>
<circle cx="716.96" cy="660.85" r="2.15"/>
<circle cx="726.04" cy="632.14" r="2.15"/>
<circle cx="735.12" cy="644.87" r="2.15"/>
<circle cx="744.2" cy="687.31" r="2.15"/>
<circle cx="753.28" cy="540.51" r="2.15"/>
<circle cx="762.36" cy="585.2" r="2.15"/>
<circle cx="771.44" cy="637.13" r="2.15"/>
<circle cx="780.52" cy="524.78" r="2.15"/>
<circle cx="789.6" cy="608.17" r="2.15"/>
<circle cx="807.76" cy="461.12" r="2.15"/>
<circle cx="816.84" cy="604.42" r="2.15"/>
<circle cx="825.92" cy="584.45" r="2.15"/>
<circle cx="835" cy="616.66" r="2.15"/>
<circle cx="844.08" cy="601.68" r="2.15"/>
<circle cx="853.16" cy="692.81" r="2.15"/>
<circle cx="871.32" cy="648.62" r="2.15"/>
<circle cx="880.4" cy="637.13" r="2.15"/>
<circle cx="889.48" cy="644.37" r="2.15"/>
<circle cx="907.64" cy="691.81" r="2.15"/>
<circle cx="925.8" cy="633.64" r="2.15"/>
<circle cx="934.88" cy="686.57" r="2.15"/>
<circle cx="953.04" cy="661.1" r="2.15"/>
<circle cx="971.2" cy="702.29" r="2.15"/>
<circle cx="989.36" cy="668.09" r="2.15"/>
<circle cx="1007.52" cy="664.84" r="2.15"/>
</g>
<text x="790" y="426.7" font-size="14.3" text-anchor="middle" fill="#111">(c)</text>
<text x="790.1" y="840.8" font-size="14.6" text-anchor="middle" fill="#111">Bare Land-Vegetation Ratio</text>
<text transform="translate(529.1 623.8) rotate(-90)" font-size="14.6" text-anchor="middle" fill="#111">Average Curvedness</text>
<path d="M582.2 752.8H616.5" stroke="#a9c2b7" stroke-width=".9" stroke-dasharray="3.2 1.8" fill="none"/>
<circle cx="599.2" cy="752.8" r="2.15" fill="#fff" fill-opacity=".7" stroke="#2a8f2e" stroke-width="1.75"/>
<path d="M582.2 777.5H616.5" stroke="#f03a3a" stroke-width="1.4" fill="none" stroke-linejoin="round"/>
<g font-size="13.5" fill="#111"><text x="620.2" y="749.9">Bare Land/Vegetation Ratio-</text><text x="620.2" y="764.9">Average Curvedness Association</text><text x="620.2" y="782.2">Kernel Regression</text></g>
</svg>
</body></html>
